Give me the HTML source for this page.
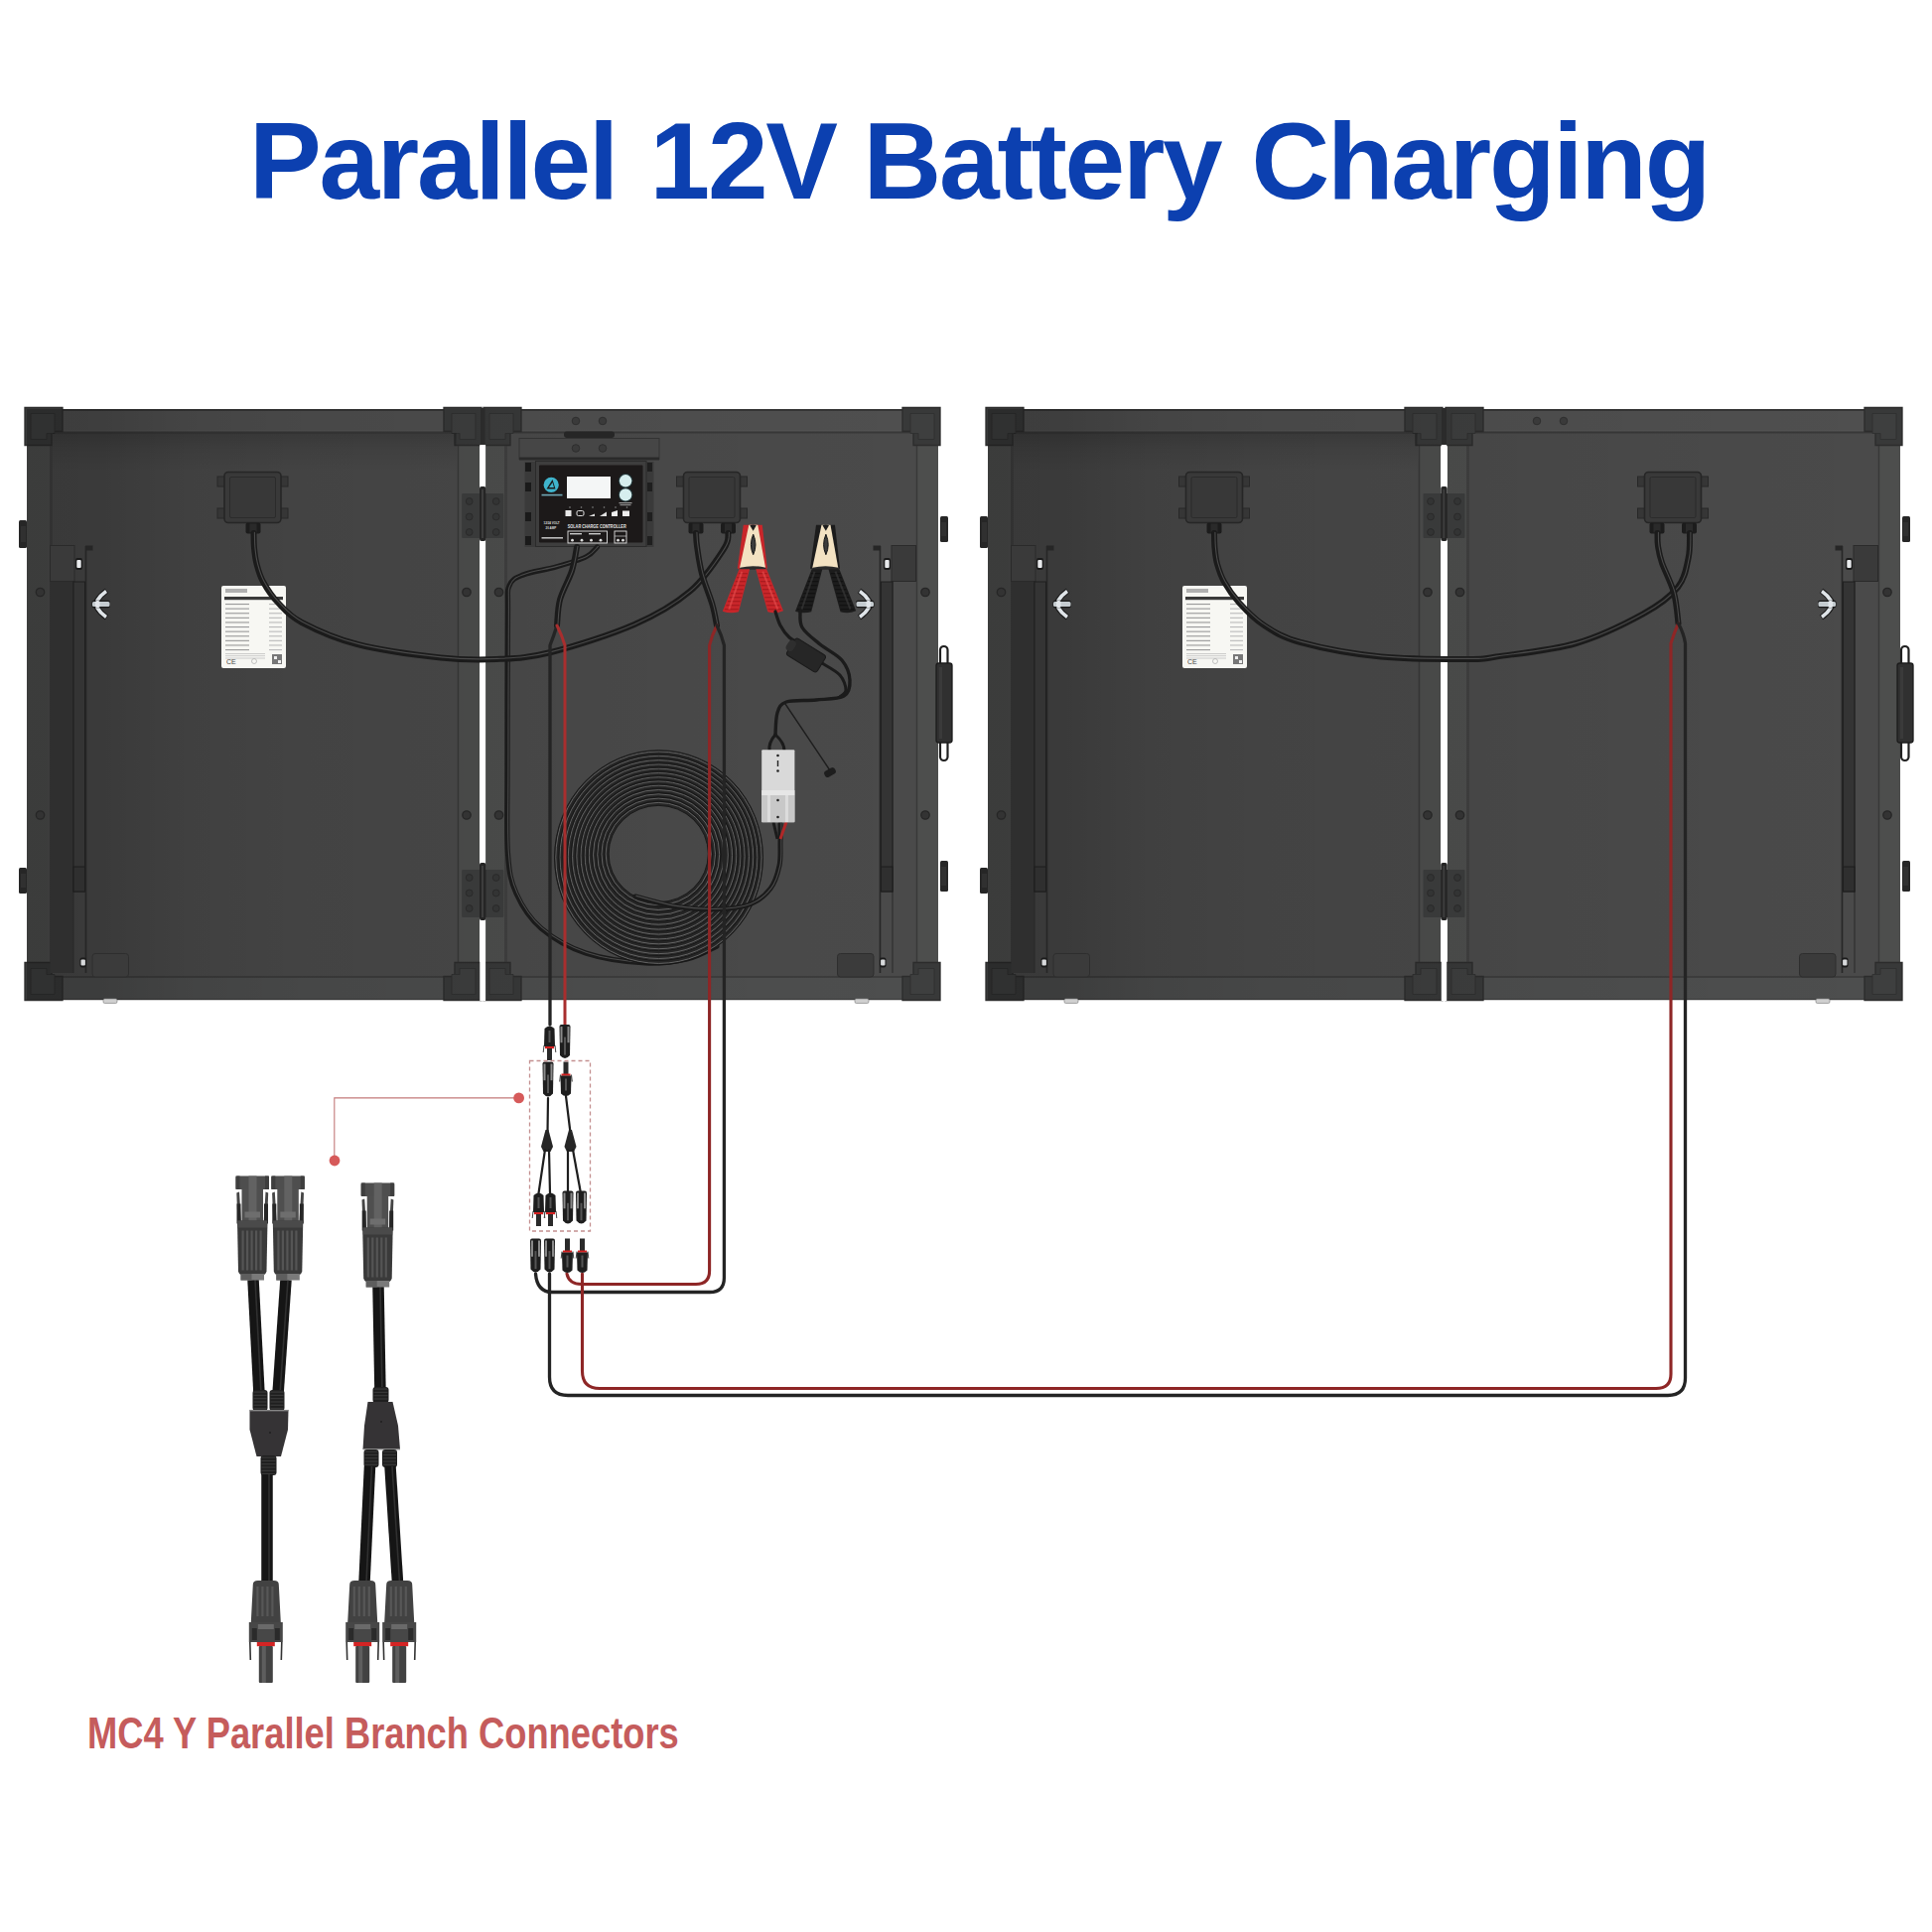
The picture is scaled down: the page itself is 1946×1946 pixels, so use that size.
<!DOCTYPE html><html><head><meta charset="utf-8"><style>html,body{margin:0;padding:0;background:#fff;width:1946px;height:1946px;overflow:hidden}svg{display:block}</style></head><body>
<svg width="1946" height="1946" viewBox="0 0 1946 1946">
<defs>
<linearGradient id="pg" x1="0" y1="0" x2="0" y2="1">
<stop offset="0" stop-color="#373737"/><stop offset="0.03" stop-color="#3a3a3a"/><stop offset="0.12" stop-color="#3d3d3d"/><stop offset="0.5" stop-color="#404040"/><stop offset="0.85" stop-color="#424242"/><stop offset="1" stop-color="#424242"/>
</linearGradient>
<linearGradient id="tsh" x1="0" y1="0" x2="0" y2="1">
<stop offset="0" stop-color="#000" stop-opacity="0.16"/><stop offset="0.4" stop-color="#000" stop-opacity="0.07"/><stop offset="1" stop-color="#000" stop-opacity="0"/>
</linearGradient>
<linearGradient id="sh" x1="0" y1="0" x2="1" y2="0">
<stop offset="0" stop-color="#000" stop-opacity="0.23"/><stop offset="0.08" stop-color="#000" stop-opacity="0.22"/><stop offset="0.18" stop-color="#000" stop-opacity="0.135"/><stop offset="0.3" stop-color="#000" stop-opacity="0.095"/><stop offset="0.46" stop-color="#000" stop-opacity="0.075"/><stop offset="0.56" stop-color="#000" stop-opacity="0.05"/><stop offset="0.78" stop-color="#000" stop-opacity="0.02"/><stop offset="1" stop-color="#000" stop-opacity="0"/>
</linearGradient>
</defs>
<rect x="0" y="0" width="1946" height="1946" fill="#ffffff" />
<text x="251" y="200" font-family="Liberation Sans" font-weight="bold" font-size="109" fill="#0c40b0" letter-spacing="-2.23">Parallel</text>
<text x="654.5" y="200" font-family="Liberation Sans" font-weight="bold" font-size="109" fill="#0c40b0" letter-spacing="-2.23">12V</text>
<text x="869.5" y="200" font-family="Liberation Sans" font-weight="bold" font-size="109" fill="#0c40b0" letter-spacing="-2.23">Battery</text>
<text x="1260.5" y="200" font-family="Liberation Sans" font-weight="bold" font-size="109" fill="#0c40b0" letter-spacing="-2.23">Charging</text>
<rect x="27" y="412" width="456" height="595" fill="#4d4e4d" />
<rect x="27" y="412" width="456" height="23" fill="#4f4f4f" />
<rect x="27" y="984" width="456" height="23" fill="#4d4e4e" />
<rect x="53" y="435" width="408" height="549" fill="#4a4a4a"/>
<rect x="50" y="435" width="3" height="549" fill="#404040"/>
<line x1="27" y1="412.9" x2="483" y2="412.9" stroke="#353535" stroke-width="2"/>
<line x1="27" y1="434" x2="483" y2="434" stroke="#585858" stroke-width="1"/>
<line x1="50" y1="435.5" x2="461" y2="435.5" stroke="#383838" stroke-width="2"/>
<line x1="50" y1="984" x2="461" y2="984" stroke="#383838" stroke-width="1.6"/>
<line x1="461.5" y1="435" x2="461.5" y2="984" stroke="#383838" stroke-width="1.4"/>
<line x1="27" y1="1006.7" x2="483" y2="1006.7" stroke="#3a3a3a" stroke-width="1.2"/>
<g transform="translate(25,410.5)">
<path d="M0 0H38V24H27V38H0Z" fill="#383939" stroke="#2c2c2c" stroke-width="1.3"/>
<path d="M6 6H30V26H22V32H6Z" fill="#3e3f3f" stroke="#2f3030" stroke-width="0.9"/>
</g>
<g transform="translate(447,410.5) translate(38,0) scale(-1,1)">
<path d="M0 0H38V24H27V38H0Z" fill="#383939" stroke="#2c2c2c" stroke-width="1.3"/>
<path d="M6 6H30V26H22V32H6Z" fill="#3e3f3f" stroke="#2f3030" stroke-width="0.9"/>
</g>
<g transform="translate(25,969.5) translate(0,38) scale(1,-1)">
<path d="M0 0H38V24H27V38H0Z" fill="#383939" stroke="#2c2c2c" stroke-width="1.3"/>
<path d="M6 6H30V26H22V32H6Z" fill="#3e3f3f" stroke="#2f3030" stroke-width="0.9"/>
</g>
<g transform="translate(447,969.5) translate(38,0) scale(-1,1) translate(0,38) scale(1,-1)">
<path d="M0 0H38V24H27V38H0Z" fill="#383939" stroke="#2c2c2c" stroke-width="1.3"/>
<path d="M6 6H30V26H22V32H6Z" fill="#3e3f3f" stroke="#2f3030" stroke-width="0.9"/>
</g>
<rect x="489" y="412" width="456" height="595" fill="#4d4e4d" />
<rect x="489" y="412" width="456" height="23" fill="#4f4f4f" />
<rect x="489" y="984" width="456" height="23" fill="#4d4e4e" />
<rect x="511" y="435" width="412" height="549" fill="#4a4a4a"/>
<rect x="508" y="435" width="3" height="549" fill="#404040"/>
<line x1="489" y1="412.9" x2="945" y2="412.9" stroke="#353535" stroke-width="2"/>
<line x1="489" y1="434" x2="945" y2="434" stroke="#585858" stroke-width="1"/>
<line x1="508" y1="435.5" x2="923" y2="435.5" stroke="#383838" stroke-width="2"/>
<line x1="508" y1="984" x2="923" y2="984" stroke="#383838" stroke-width="1.6"/>
<line x1="923.5" y1="435" x2="923.5" y2="984" stroke="#383838" stroke-width="1.4"/>
<line x1="489" y1="1006.7" x2="945" y2="1006.7" stroke="#3a3a3a" stroke-width="1.2"/>
<g transform="translate(487,410.5)">
<path d="M0 0H38V24H27V38H0Z" fill="#383939" stroke="#2c2c2c" stroke-width="1.3"/>
<path d="M6 6H30V26H22V32H6Z" fill="#3e3f3f" stroke="#2f3030" stroke-width="0.9"/>
</g>
<g transform="translate(909,410.5) translate(38,0) scale(-1,1)">
<path d="M0 0H38V24H27V38H0Z" fill="#383939" stroke="#2c2c2c" stroke-width="1.3"/>
<path d="M6 6H30V26H22V32H6Z" fill="#3e3f3f" stroke="#2f3030" stroke-width="0.9"/>
</g>
<g transform="translate(487,969.5) translate(0,38) scale(1,-1)">
<path d="M0 0H38V24H27V38H0Z" fill="#383939" stroke="#2c2c2c" stroke-width="1.3"/>
<path d="M6 6H30V26H22V32H6Z" fill="#3e3f3f" stroke="#2f3030" stroke-width="0.9"/>
</g>
<g transform="translate(909,969.5) translate(38,0) scale(-1,1) translate(0,38) scale(1,-1)">
<path d="M0 0H38V24H27V38H0Z" fill="#383939" stroke="#2c2c2c" stroke-width="1.3"/>
<path d="M6 6H30V26H22V32H6Z" fill="#3e3f3f" stroke="#2f3030" stroke-width="0.9"/>
</g>
<rect x="27" y="412" width="920" height="595" fill="url(#sh)"/>
<rect x="53" y="436" width="407" height="40" fill="url(#tsh)" />
<rect x="483.3" y="448" width="5.8" height="560" fill="#ffffff" />
<rect x="484" y="411" width="4.5" height="37" fill="#2b2b2b" />
<rect x="995" y="412" width="456" height="595" fill="#4d4e4d" />
<rect x="995" y="412" width="456" height="23" fill="#4f4f4f" />
<rect x="995" y="984" width="456" height="23" fill="#4d4e4e" />
<rect x="1021" y="435" width="408" height="549" fill="#4a4a4a"/>
<rect x="1018" y="435" width="3" height="549" fill="#404040"/>
<line x1="995" y1="412.9" x2="1451" y2="412.9" stroke="#353535" stroke-width="2"/>
<line x1="995" y1="434" x2="1451" y2="434" stroke="#585858" stroke-width="1"/>
<line x1="1018" y1="435.5" x2="1429" y2="435.5" stroke="#383838" stroke-width="2"/>
<line x1="1018" y1="984" x2="1429" y2="984" stroke="#383838" stroke-width="1.6"/>
<line x1="1429.5" y1="435" x2="1429.5" y2="984" stroke="#383838" stroke-width="1.4"/>
<line x1="995" y1="1006.7" x2="1451" y2="1006.7" stroke="#3a3a3a" stroke-width="1.2"/>
<g transform="translate(993,410.5)">
<path d="M0 0H38V24H27V38H0Z" fill="#383939" stroke="#2c2c2c" stroke-width="1.3"/>
<path d="M6 6H30V26H22V32H6Z" fill="#3e3f3f" stroke="#2f3030" stroke-width="0.9"/>
</g>
<g transform="translate(1415,410.5) translate(38,0) scale(-1,1)">
<path d="M0 0H38V24H27V38H0Z" fill="#383939" stroke="#2c2c2c" stroke-width="1.3"/>
<path d="M6 6H30V26H22V32H6Z" fill="#3e3f3f" stroke="#2f3030" stroke-width="0.9"/>
</g>
<g transform="translate(993,969.5) translate(0,38) scale(1,-1)">
<path d="M0 0H38V24H27V38H0Z" fill="#383939" stroke="#2c2c2c" stroke-width="1.3"/>
<path d="M6 6H30V26H22V32H6Z" fill="#3e3f3f" stroke="#2f3030" stroke-width="0.9"/>
</g>
<g transform="translate(1415,969.5) translate(38,0) scale(-1,1) translate(0,38) scale(1,-1)">
<path d="M0 0H38V24H27V38H0Z" fill="#383939" stroke="#2c2c2c" stroke-width="1.3"/>
<path d="M6 6H30V26H22V32H6Z" fill="#3e3f3f" stroke="#2f3030" stroke-width="0.9"/>
</g>
<rect x="1458" y="412" width="456" height="595" fill="#4d4e4d" />
<rect x="1458" y="412" width="456" height="23" fill="#4f4f4f" />
<rect x="1458" y="984" width="456" height="23" fill="#4d4e4e" />
<rect x="1480" y="435" width="412" height="549" fill="#4a4a4a"/>
<rect x="1477" y="435" width="3" height="549" fill="#404040"/>
<line x1="1458" y1="412.9" x2="1914" y2="412.9" stroke="#353535" stroke-width="2"/>
<line x1="1458" y1="434" x2="1914" y2="434" stroke="#585858" stroke-width="1"/>
<line x1="1477" y1="435.5" x2="1892" y2="435.5" stroke="#383838" stroke-width="2"/>
<line x1="1477" y1="984" x2="1892" y2="984" stroke="#383838" stroke-width="1.6"/>
<line x1="1892.5" y1="435" x2="1892.5" y2="984" stroke="#383838" stroke-width="1.4"/>
<line x1="1458" y1="1006.7" x2="1914" y2="1006.7" stroke="#3a3a3a" stroke-width="1.2"/>
<g transform="translate(1456,410.5)">
<path d="M0 0H38V24H27V38H0Z" fill="#383939" stroke="#2c2c2c" stroke-width="1.3"/>
<path d="M6 6H30V26H22V32H6Z" fill="#3e3f3f" stroke="#2f3030" stroke-width="0.9"/>
</g>
<g transform="translate(1878,410.5) translate(38,0) scale(-1,1)">
<path d="M0 0H38V24H27V38H0Z" fill="#383939" stroke="#2c2c2c" stroke-width="1.3"/>
<path d="M6 6H30V26H22V32H6Z" fill="#3e3f3f" stroke="#2f3030" stroke-width="0.9"/>
</g>
<g transform="translate(1456,969.5) translate(0,38) scale(1,-1)">
<path d="M0 0H38V24H27V38H0Z" fill="#383939" stroke="#2c2c2c" stroke-width="1.3"/>
<path d="M6 6H30V26H22V32H6Z" fill="#3e3f3f" stroke="#2f3030" stroke-width="0.9"/>
</g>
<g transform="translate(1878,969.5) translate(38,0) scale(-1,1) translate(0,38) scale(1,-1)">
<path d="M0 0H38V24H27V38H0Z" fill="#383939" stroke="#2c2c2c" stroke-width="1.3"/>
<path d="M6 6H30V26H22V32H6Z" fill="#3e3f3f" stroke="#2f3030" stroke-width="0.9"/>
</g>
<rect x="995" y="412" width="920" height="595" fill="url(#sh)"/>
<rect x="1021" y="436" width="407" height="40" fill="url(#tsh)" />
<rect x="1451.8" y="448" width="5.4" height="560" fill="#ffffff" />
<rect x="1452.5" y="411" width="4.5" height="37" fill="#2b2b2b" />
<circle cx="40.5" cy="596.5" r="4.2" fill="#333333" stroke="#262626" stroke-width="1.3"/>
<circle cx="40.5" cy="821" r="4.2" fill="#333333" stroke="#262626" stroke-width="1.3"/>
<circle cx="470" cy="596.5" r="4.2" fill="#333333" stroke="#262626" stroke-width="1.3"/>
<circle cx="470" cy="821" r="4.2" fill="#333333" stroke="#262626" stroke-width="1.3"/>
<circle cx="502.5" cy="596.5" r="4.2" fill="#333333" stroke="#262626" stroke-width="1.3"/>
<circle cx="502.5" cy="821" r="4.2" fill="#333333" stroke="#262626" stroke-width="1.3"/>
<circle cx="932" cy="596.5" r="4.2" fill="#333333" stroke="#262626" stroke-width="1.3"/>
<circle cx="932" cy="821" r="4.2" fill="#333333" stroke="#262626" stroke-width="1.3"/>
<circle cx="1008.5" cy="596.5" r="4.2" fill="#333333" stroke="#262626" stroke-width="1.3"/>
<circle cx="1008.5" cy="821" r="4.2" fill="#333333" stroke="#262626" stroke-width="1.3"/>
<circle cx="1438" cy="596.5" r="4.2" fill="#333333" stroke="#262626" stroke-width="1.3"/>
<circle cx="1438" cy="821" r="4.2" fill="#333333" stroke="#262626" stroke-width="1.3"/>
<circle cx="1470.5" cy="596.5" r="4.2" fill="#333333" stroke="#262626" stroke-width="1.3"/>
<circle cx="1470.5" cy="821" r="4.2" fill="#333333" stroke="#262626" stroke-width="1.3"/>
<circle cx="1901" cy="596.5" r="4.2" fill="#333333" stroke="#262626" stroke-width="1.3"/>
<circle cx="1901" cy="821" r="4.2" fill="#333333" stroke="#262626" stroke-width="1.3"/>
<rect x="465.2" y="497" width="42" height="45" rx="1" fill="#393a3a"/>
<circle cx="472.7" cy="505" r="3.4" fill="#333434" stroke="#2a2a2a" stroke-width="1"/>
<circle cx="499.7" cy="505" r="3.4" fill="#333434" stroke="#2a2a2a" stroke-width="1"/>
<circle cx="472.7" cy="520.5" r="3.4" fill="#333434" stroke="#2a2a2a" stroke-width="1"/>
<circle cx="499.7" cy="520.5" r="3.4" fill="#333434" stroke="#2a2a2a" stroke-width="1"/>
<circle cx="472.7" cy="536" r="3.4" fill="#333434" stroke="#2a2a2a" stroke-width="1"/>
<circle cx="499.7" cy="536" r="3.4" fill="#333434" stroke="#2a2a2a" stroke-width="1"/>
<rect x="483" y="490" width="6.4" height="55" rx="2" fill="#252525"/>
<rect x="485" y="493" width="2" height="49" fill="#3d3d3d"/>
<rect x="465.2" y="876" width="42" height="48" rx="1" fill="#393a3a"/>
<circle cx="472.7" cy="884" r="3.4" fill="#333434" stroke="#2a2a2a" stroke-width="1"/>
<circle cx="499.7" cy="884" r="3.4" fill="#333434" stroke="#2a2a2a" stroke-width="1"/>
<circle cx="472.7" cy="899.5" r="3.4" fill="#333434" stroke="#2a2a2a" stroke-width="1"/>
<circle cx="499.7" cy="899.5" r="3.4" fill="#333434" stroke="#2a2a2a" stroke-width="1"/>
<circle cx="472.7" cy="915" r="3.4" fill="#333434" stroke="#2a2a2a" stroke-width="1"/>
<circle cx="499.7" cy="915" r="3.4" fill="#333434" stroke="#2a2a2a" stroke-width="1"/>
<rect x="483" y="869" width="6.4" height="58" rx="2" fill="#252525"/>
<rect x="485" y="872" width="2" height="52" fill="#3d3d3d"/>
<rect x="1433.5" y="497" width="42" height="45" rx="1" fill="#393a3a"/>
<circle cx="1441" cy="505" r="3.4" fill="#333434" stroke="#2a2a2a" stroke-width="1"/>
<circle cx="1468" cy="505" r="3.4" fill="#333434" stroke="#2a2a2a" stroke-width="1"/>
<circle cx="1441" cy="520.5" r="3.4" fill="#333434" stroke="#2a2a2a" stroke-width="1"/>
<circle cx="1468" cy="520.5" r="3.4" fill="#333434" stroke="#2a2a2a" stroke-width="1"/>
<circle cx="1441" cy="536" r="3.4" fill="#333434" stroke="#2a2a2a" stroke-width="1"/>
<circle cx="1468" cy="536" r="3.4" fill="#333434" stroke="#2a2a2a" stroke-width="1"/>
<rect x="1451.3" y="490" width="6.4" height="55" rx="2" fill="#252525"/>
<rect x="1453.3" y="493" width="2" height="49" fill="#3d3d3d"/>
<rect x="1433.5" y="876" width="42" height="48" rx="1" fill="#393a3a"/>
<circle cx="1441" cy="884" r="3.4" fill="#333434" stroke="#2a2a2a" stroke-width="1"/>
<circle cx="1468" cy="884" r="3.4" fill="#333434" stroke="#2a2a2a" stroke-width="1"/>
<circle cx="1441" cy="899.5" r="3.4" fill="#333434" stroke="#2a2a2a" stroke-width="1"/>
<circle cx="1468" cy="899.5" r="3.4" fill="#333434" stroke="#2a2a2a" stroke-width="1"/>
<circle cx="1441" cy="915" r="3.4" fill="#333434" stroke="#2a2a2a" stroke-width="1"/>
<circle cx="1468" cy="915" r="3.4" fill="#333434" stroke="#2a2a2a" stroke-width="1"/>
<rect x="1451.3" y="869" width="6.4" height="58" rx="2" fill="#252525"/>
<rect x="1453.3" y="872" width="2" height="52" fill="#3d3d3d"/>
<rect x="19" y="524" width="8" height="28" rx="1.5" fill="#262626"/>
<rect x="21" y="530" width="5" height="16" fill="#303030"/>
<rect x="19" y="874" width="8" height="26" rx="1.5" fill="#262626"/>
<rect x="21" y="880" width="5" height="14" fill="#303030"/>
<rect x="1916" y="520" width="8" height="26" rx="1.5" fill="#262626"/>
<rect x="1917" y="526" width="5" height="14" fill="#303030"/>
<rect x="1916" y="867" width="8" height="31" rx="1.5" fill="#262626"/>
<rect x="1917" y="873" width="5" height="19" fill="#303030"/>
<rect x="947" y="520" width="8" height="26" rx="1.5" fill="#262626"/>
<rect x="948" y="526" width="5" height="14" fill="#303030"/>
<rect x="947" y="867" width="8" height="31" rx="1.5" fill="#262626"/>
<rect x="948" y="873" width="5" height="19" fill="#303030"/>
<rect x="987" y="520" width="8" height="32" rx="1.5" fill="#262626"/>
<rect x="989" y="526" width="5" height="20" fill="#303030"/>
<rect x="987" y="874" width="8" height="26" rx="1.5" fill="#262626"/>
<rect x="989" y="880" width="5" height="14" fill="#303030"/>
<rect x="947" y="651" width="7.5" height="24" rx="3.7" fill="none" stroke="#202020" stroke-width="2.2"/>
<rect x="947" y="741" width="7.5" height="25" rx="3.7" fill="none" stroke="#202020" stroke-width="2.2"/>
<rect x="943" y="668" width="16" height="80" rx="2.5" fill="#303030" stroke="#1c1c1c" stroke-width="1.3"/>
<rect x="946" y="672" width="3" height="72" fill="#3a3a3a"/>
<rect x="1915" y="651" width="7.5" height="24" rx="3.7" fill="none" stroke="#202020" stroke-width="2.2"/>
<rect x="1915" y="741" width="7.5" height="25" rx="3.7" fill="none" stroke="#202020" stroke-width="2.2"/>
<rect x="1911" y="668" width="16" height="80" rx="2.5" fill="#303030" stroke="#1c1c1c" stroke-width="1.3"/>
<rect x="1914" y="672" width="3" height="72" fill="#3a3a3a"/>
<rect x="50.5" y="585" width="23.5" height="395" fill="#2f2f2f" />
<line x1="74" y1="585" x2="74" y2="980" stroke="#282828" stroke-width="1"/>
<rect x="50.5" y="549.5" width="24.5" height="36" fill="#3a3a3a" stroke="#2a2a2a" stroke-width="1"/>
<rect x="74" y="586" width="11.5" height="312" fill="#343434" stroke="#1e1e1e" stroke-width="1"/>
<rect x="74" y="873" width="11.5" height="25" fill="#2f2f2f" stroke="#1c1c1c" stroke-width="1"/>
<line x1="86.5" y1="550" x2="86.5" y2="980" stroke="#262626" stroke-width="1.6"/>
<rect x="86" y="549.5" width="7.5" height="5" fill="#262626" />
<rect x="93" y="960.5" width="36.5" height="23.5" rx="3" fill="#3b3b3b" stroke="#2e2e2e" stroke-width="1"/>
<rect x="76" y="562" width="7" height="12" rx="2" fill="#1a1a1a"/>
<rect x="77.3" y="564" width="4.4" height="8" rx="1" fill="#e8eaec"/>
<rect x="80.5" y="964.5" width="6.5" height="10" rx="2" fill="#1a1a1a"/>
<rect x="81.5" y="966.5" width="4.4" height="6" rx="1" fill="#d8dadc"/>
<g transform="translate(1844,0) scale(-1,1)">
<line x1="945" y1="585" x2="945" y2="980" stroke="#282828" stroke-width="1"/>
<rect x="921.5" y="549.5" width="24.5" height="36" fill="#3a3a3a" stroke="#2a2a2a" stroke-width="1"/>
<rect x="945" y="586" width="11.5" height="312" fill="#343434" stroke="#1e1e1e" stroke-width="1"/>
<rect x="945" y="873" width="11.5" height="25" fill="#2f2f2f" stroke="#1c1c1c" stroke-width="1"/>
<line x1="957.5" y1="550" x2="957.5" y2="980" stroke="#262626" stroke-width="1.6"/>
<rect x="957" y="549.5" width="7.5" height="5" fill="#262626" />
<rect x="964" y="960.5" width="36.5" height="23.5" rx="3" fill="#3b3b3b" stroke="#2e2e2e" stroke-width="1"/>
<rect x="947" y="562" width="7" height="12" rx="2" fill="#1a1a1a"/>
<rect x="948.3" y="564" width="4.4" height="8" rx="1" fill="#e8eaec"/>
<rect x="951.5" y="964.5" width="6.5" height="10" rx="2" fill="#1a1a1a"/>
<rect x="952.5" y="966.5" width="4.4" height="6" rx="1" fill="#d8dadc"/>
</g>
<rect x="1018.5" y="585" width="23.5" height="395" fill="#2f2f2f" />
<line x1="1042" y1="585" x2="1042" y2="980" stroke="#282828" stroke-width="1"/>
<rect x="1018.5" y="549.5" width="24.5" height="36" fill="#3a3a3a" stroke="#2a2a2a" stroke-width="1"/>
<rect x="1042" y="586" width="11.5" height="312" fill="#343434" stroke="#1e1e1e" stroke-width="1"/>
<rect x="1042" y="873" width="11.5" height="25" fill="#2f2f2f" stroke="#1c1c1c" stroke-width="1"/>
<line x1="1054.5" y1="550" x2="1054.5" y2="980" stroke="#262626" stroke-width="1.6"/>
<rect x="1054" y="549.5" width="7.5" height="5" fill="#262626" />
<rect x="1061" y="960.5" width="36.5" height="23.5" rx="3" fill="#3b3b3b" stroke="#2e2e2e" stroke-width="1"/>
<rect x="1044" y="562" width="7" height="12" rx="2" fill="#1a1a1a"/>
<rect x="1045.3" y="564" width="4.4" height="8" rx="1" fill="#e8eaec"/>
<rect x="1048.5" y="964.5" width="6.5" height="10" rx="2" fill="#1a1a1a"/>
<rect x="1049.5" y="966.5" width="4.4" height="6" rx="1" fill="#d8dadc"/>
<g transform="translate(3782,0) scale(-1,1)">
<line x1="1914" y1="585" x2="1914" y2="980" stroke="#282828" stroke-width="1"/>
<rect x="1890.5" y="549.5" width="24.5" height="36" fill="#3a3a3a" stroke="#2a2a2a" stroke-width="1"/>
<rect x="1914" y="586" width="11.5" height="312" fill="#343434" stroke="#1e1e1e" stroke-width="1"/>
<rect x="1914" y="873" width="11.5" height="25" fill="#2f2f2f" stroke="#1c1c1c" stroke-width="1"/>
<line x1="1926.5" y1="550" x2="1926.5" y2="980" stroke="#262626" stroke-width="1.6"/>
<rect x="1926" y="549.5" width="7.5" height="5" fill="#262626" />
<rect x="1933" y="960.5" width="36.5" height="23.5" rx="3" fill="#3b3b3b" stroke="#2e2e2e" stroke-width="1"/>
<rect x="1916" y="562" width="7" height="12" rx="2" fill="#1a1a1a"/>
<rect x="1917.3" y="564" width="4.4" height="8" rx="1" fill="#e8eaec"/>
<rect x="1920.5" y="964.5" width="6.5" height="10" rx="2" fill="#1a1a1a"/>
<rect x="1921.5" y="966.5" width="4.4" height="6" rx="1" fill="#d8dadc"/>
</g>
<g transform="translate(98,608.5) scale(1,1)">
<path d="M-1 -2.5 Q3 -9 9.5 -13.5" fill="none" stroke="#1a1a1a" stroke-width="5.6" stroke-linecap="butt"/>
<path d="M-1 2.5 Q3 9 9.5 13.5" fill="none" stroke="#1a1a1a" stroke-width="5.6" stroke-linecap="butt"/>
<path d="M-0.5 -3 Q3 -9 9 -13" fill="none" stroke="#dfe4e8" stroke-width="3.6"/>
<path d="M-0.5 3 Q3 9 9 13" fill="none" stroke="#dfe4e8" stroke-width="3.6"/>
<rect x="-5.5" y="-3.8" width="18.5" height="7.6" rx="2" fill="#1a1a1a"/>
<rect x="-5" y="-2.4" width="17.5" height="4.8" rx="1.5" fill="#c5ccd0"/>
<rect x="-2" y="-3.4" width="4.5" height="6.8" rx="1.5" fill="#e2e6ea"/>
</g>
<g transform="translate(875,608.5) scale(-1,1)">
<path d="M-1 -2.5 Q3 -9 9.5 -13.5" fill="none" stroke="#1a1a1a" stroke-width="5.6" stroke-linecap="butt"/>
<path d="M-1 2.5 Q3 9 9.5 13.5" fill="none" stroke="#1a1a1a" stroke-width="5.6" stroke-linecap="butt"/>
<path d="M-0.5 -3 Q3 -9 9 -13" fill="none" stroke="#dfe4e8" stroke-width="3.6"/>
<path d="M-0.5 3 Q3 9 9 13" fill="none" stroke="#dfe4e8" stroke-width="3.6"/>
<rect x="-5.5" y="-3.8" width="18.5" height="7.6" rx="2" fill="#1a1a1a"/>
<rect x="-5" y="-2.4" width="17.5" height="4.8" rx="1.5" fill="#c5ccd0"/>
<rect x="-2" y="-3.4" width="4.5" height="6.8" rx="1.5" fill="#e2e6ea"/>
</g>
<g transform="translate(1066,608.5) scale(1,1)">
<path d="M-1 -2.5 Q3 -9 9.5 -13.5" fill="none" stroke="#1a1a1a" stroke-width="5.6" stroke-linecap="butt"/>
<path d="M-1 2.5 Q3 9 9.5 13.5" fill="none" stroke="#1a1a1a" stroke-width="5.6" stroke-linecap="butt"/>
<path d="M-0.5 -3 Q3 -9 9 -13" fill="none" stroke="#dfe4e8" stroke-width="3.6"/>
<path d="M-0.5 3 Q3 9 9 13" fill="none" stroke="#dfe4e8" stroke-width="3.6"/>
<rect x="-5.5" y="-3.8" width="18.5" height="7.6" rx="2" fill="#1a1a1a"/>
<rect x="-5" y="-2.4" width="17.5" height="4.8" rx="1.5" fill="#c5ccd0"/>
<rect x="-2" y="-3.4" width="4.5" height="6.8" rx="1.5" fill="#e2e6ea"/>
</g>
<g transform="translate(1844,608.5) scale(-1,1)">
<path d="M-1 -2.5 Q3 -9 9.5 -13.5" fill="none" stroke="#1a1a1a" stroke-width="5.6" stroke-linecap="butt"/>
<path d="M-1 2.5 Q3 9 9.5 13.5" fill="none" stroke="#1a1a1a" stroke-width="5.6" stroke-linecap="butt"/>
<path d="M-0.5 -3 Q3 -9 9 -13" fill="none" stroke="#dfe4e8" stroke-width="3.6"/>
<path d="M-0.5 3 Q3 9 9 13" fill="none" stroke="#dfe4e8" stroke-width="3.6"/>
<rect x="-5.5" y="-3.8" width="18.5" height="7.6" rx="2" fill="#1a1a1a"/>
<rect x="-5" y="-2.4" width="17.5" height="4.8" rx="1.5" fill="#c5ccd0"/>
<rect x="-2" y="-3.4" width="4.5" height="6.8" rx="1.5" fill="#e2e6ea"/>
</g>
<rect x="104" y="1006" width="14" height="4.5" rx="1.5" fill="#cfcfcf" stroke="#777" stroke-width="0.6"/>
<rect x="861" y="1006" width="14" height="4.5" rx="1.5" fill="#cfcfcf" stroke="#777" stroke-width="0.6"/>
<rect x="1072" y="1006" width="14" height="4.5" rx="1.5" fill="#cfcfcf" stroke="#777" stroke-width="0.6"/>
<rect x="1829" y="1006" width="14" height="4.5" rx="1.5" fill="#cfcfcf" stroke="#777" stroke-width="0.6"/>
<circle cx="580" cy="424" r="3.8" fill="#3a3a3a" stroke="#2c2c2c" stroke-width="0.9"/>
<circle cx="607" cy="424" r="3.8" fill="#3a3a3a" stroke="#2c2c2c" stroke-width="0.9"/>
<circle cx="1548" cy="424" r="3.8" fill="#3a3a3a" stroke="#2c2c2c" stroke-width="0.9"/>
<circle cx="1575" cy="424" r="3.8" fill="#3a3a3a" stroke="#2c2c2c" stroke-width="0.9"/>
<rect x="219" y="480" width="8" height="10" fill="#363636" stroke="#282828" stroke-width="1"/>
<rect x="219" y="512" width="8" height="10" fill="#363636" stroke="#282828" stroke-width="1"/>
<rect x="282" y="480" width="8" height="10" fill="#363636" stroke="#282828" stroke-width="1"/>
<rect x="282" y="512" width="8" height="10" fill="#363636" stroke="#282828" stroke-width="1"/>
<rect x="226" y="475.5" width="57" height="51" rx="4" fill="#393939" stroke="#262626" stroke-width="1.6"/>
<rect x="231.5" y="480.5" width="46" height="41" rx="1.5" fill="#383838" stroke="#2b2b2b" stroke-width="1"/>
<rect x="247.5" y="526.5" width="15" height="11" rx="2" fill="#1c1c1c"/>
<rect x="251.5" y="527.5" width="7" height="9" fill="#2a2a2a"/>
<rect x="681.5" y="480" width="8" height="10" fill="#363636" stroke="#282828" stroke-width="1"/>
<rect x="681.5" y="512" width="8" height="10" fill="#363636" stroke="#282828" stroke-width="1"/>
<rect x="744.5" y="480" width="8" height="10" fill="#363636" stroke="#282828" stroke-width="1"/>
<rect x="744.5" y="512" width="8" height="10" fill="#363636" stroke="#282828" stroke-width="1"/>
<rect x="688.5" y="475.5" width="57" height="51" rx="4" fill="#393939" stroke="#262626" stroke-width="1.6"/>
<rect x="694" y="480.5" width="46" height="41" rx="1.5" fill="#383838" stroke="#2b2b2b" stroke-width="1"/>
<rect x="693.5" y="526.5" width="15" height="11" rx="2" fill="#1c1c1c"/>
<rect x="697.5" y="527.5" width="7" height="9" fill="#2a2a2a"/>
<rect x="726" y="526.5" width="15" height="11" rx="2" fill="#1c1c1c"/>
<rect x="730" y="527.5" width="7" height="9" fill="#2a2a2a"/>
<rect x="1187.5" y="480" width="8" height="10" fill="#363636" stroke="#282828" stroke-width="1"/>
<rect x="1187.5" y="512" width="8" height="10" fill="#363636" stroke="#282828" stroke-width="1"/>
<rect x="1250.5" y="480" width="8" height="10" fill="#363636" stroke="#282828" stroke-width="1"/>
<rect x="1250.5" y="512" width="8" height="10" fill="#363636" stroke="#282828" stroke-width="1"/>
<rect x="1194.5" y="475.5" width="57" height="51" rx="4" fill="#393939" stroke="#262626" stroke-width="1.6"/>
<rect x="1200" y="480.5" width="46" height="41" rx="1.5" fill="#383838" stroke="#2b2b2b" stroke-width="1"/>
<rect x="1215.5" y="526.5" width="15" height="11" rx="2" fill="#1c1c1c"/>
<rect x="1219.5" y="527.5" width="7" height="9" fill="#2a2a2a"/>
<rect x="1649.5" y="480" width="8" height="10" fill="#363636" stroke="#282828" stroke-width="1"/>
<rect x="1649.5" y="512" width="8" height="10" fill="#363636" stroke="#282828" stroke-width="1"/>
<rect x="1712.5" y="480" width="8" height="10" fill="#363636" stroke="#282828" stroke-width="1"/>
<rect x="1712.5" y="512" width="8" height="10" fill="#363636" stroke="#282828" stroke-width="1"/>
<rect x="1656.5" y="475.5" width="57" height="51" rx="4" fill="#393939" stroke="#262626" stroke-width="1.6"/>
<rect x="1662" y="480.5" width="46" height="41" rx="1.5" fill="#383838" stroke="#2b2b2b" stroke-width="1"/>
<rect x="1661.5" y="526.5" width="15" height="11" rx="2" fill="#1c1c1c"/>
<rect x="1665.5" y="527.5" width="7" height="9" fill="#2a2a2a"/>
<rect x="1694" y="526.5" width="15" height="11" rx="2" fill="#1c1c1c"/>
<rect x="1698" y="527.5" width="7" height="9" fill="#2a2a2a"/>
<rect x="223" y="590" width="65" height="83" rx="2" fill="#f7f7f3"/>
<rect x="226" y="601" width="59" height="3.2" fill="#3a3a3a"/>
<rect x="227" y="593" width="22" height="4" fill="#b0b0b0"/>
<rect x="227" y="608" width="24" height="1.1" fill="#9a9a9a"/>
<rect x="271" y="608" width="13" height="1.1" fill="#bbbbbb"/>
<rect x="227" y="612.6" width="24" height="1.1" fill="#9a9a9a"/>
<rect x="271" y="612.6" width="13" height="1.1" fill="#bbbbbb"/>
<rect x="227" y="617.2" width="24" height="1.1" fill="#9a9a9a"/>
<rect x="271" y="617.2" width="13" height="1.1" fill="#bbbbbb"/>
<rect x="227" y="621.8" width="24" height="1.1" fill="#9a9a9a"/>
<rect x="271" y="621.8" width="13" height="1.1" fill="#bbbbbb"/>
<rect x="227" y="626.4" width="24" height="1.1" fill="#9a9a9a"/>
<rect x="271" y="626.4" width="13" height="1.1" fill="#bbbbbb"/>
<rect x="227" y="631" width="24" height="1.1" fill="#9a9a9a"/>
<rect x="271" y="631" width="13" height="1.1" fill="#bbbbbb"/>
<rect x="227" y="635.6" width="24" height="1.1" fill="#9a9a9a"/>
<rect x="271" y="635.6" width="13" height="1.1" fill="#bbbbbb"/>
<rect x="227" y="640.2" width="24" height="1.1" fill="#9a9a9a"/>
<rect x="271" y="640.2" width="13" height="1.1" fill="#bbbbbb"/>
<rect x="227" y="644.8" width="24" height="1.1" fill="#9a9a9a"/>
<rect x="271" y="644.8" width="13" height="1.1" fill="#bbbbbb"/>
<rect x="227" y="649.4" width="24" height="1.1" fill="#9a9a9a"/>
<rect x="271" y="649.4" width="13" height="1.1" fill="#bbbbbb"/>
<rect x="227" y="654" width="24" height="1.1" fill="#9a9a9a"/>
<rect x="271" y="654" width="13" height="1.1" fill="#bbbbbb"/>
<rect x="227" y="658" width="40" height="0.8" fill="#c0c0c0"/>
<rect x="227" y="660.3" width="40" height="0.8" fill="#c0c0c0"/>
<rect x="227" y="662.6" width="40" height="0.8" fill="#c0c0c0"/>
<text x="228" y="669" font-family="Liberation Sans" font-size="7" fill="#444">CE</text>
<circle cx="256" cy="666" r="2.5" fill="none" stroke="#aaa" stroke-width="0.7"/>
<rect x="274" y="659" width="10" height="10" fill="#777"/>
<rect x="276" y="661" width="3" height="3" fill="#eee"/><rect x="280" y="665" width="3" height="3" fill="#eee"/>
<rect x="1191" y="590" width="65" height="83" rx="2" fill="#f7f7f3"/>
<rect x="1194" y="601" width="59" height="3.2" fill="#3a3a3a"/>
<rect x="1195" y="593" width="22" height="4" fill="#b0b0b0"/>
<rect x="1195" y="608" width="24" height="1.1" fill="#9a9a9a"/>
<rect x="1239" y="608" width="13" height="1.1" fill="#bbbbbb"/>
<rect x="1195" y="612.6" width="24" height="1.1" fill="#9a9a9a"/>
<rect x="1239" y="612.6" width="13" height="1.1" fill="#bbbbbb"/>
<rect x="1195" y="617.2" width="24" height="1.1" fill="#9a9a9a"/>
<rect x="1239" y="617.2" width="13" height="1.1" fill="#bbbbbb"/>
<rect x="1195" y="621.8" width="24" height="1.1" fill="#9a9a9a"/>
<rect x="1239" y="621.8" width="13" height="1.1" fill="#bbbbbb"/>
<rect x="1195" y="626.4" width="24" height="1.1" fill="#9a9a9a"/>
<rect x="1239" y="626.4" width="13" height="1.1" fill="#bbbbbb"/>
<rect x="1195" y="631" width="24" height="1.1" fill="#9a9a9a"/>
<rect x="1239" y="631" width="13" height="1.1" fill="#bbbbbb"/>
<rect x="1195" y="635.6" width="24" height="1.1" fill="#9a9a9a"/>
<rect x="1239" y="635.6" width="13" height="1.1" fill="#bbbbbb"/>
<rect x="1195" y="640.2" width="24" height="1.1" fill="#9a9a9a"/>
<rect x="1239" y="640.2" width="13" height="1.1" fill="#bbbbbb"/>
<rect x="1195" y="644.8" width="24" height="1.1" fill="#9a9a9a"/>
<rect x="1239" y="644.8" width="13" height="1.1" fill="#bbbbbb"/>
<rect x="1195" y="649.4" width="24" height="1.1" fill="#9a9a9a"/>
<rect x="1239" y="649.4" width="13" height="1.1" fill="#bbbbbb"/>
<rect x="1195" y="654" width="24" height="1.1" fill="#9a9a9a"/>
<rect x="1239" y="654" width="13" height="1.1" fill="#bbbbbb"/>
<rect x="1195" y="658" width="40" height="0.8" fill="#c0c0c0"/>
<rect x="1195" y="660.3" width="40" height="0.8" fill="#c0c0c0"/>
<rect x="1195" y="662.6" width="40" height="0.8" fill="#c0c0c0"/>
<text x="1196" y="669" font-family="Liberation Sans" font-size="7" fill="#444">CE</text>
<circle cx="1224" cy="666" r="2.5" fill="none" stroke="#aaa" stroke-width="0.7"/>
<rect x="1242" y="659" width="10" height="10" fill="#777"/>
<rect x="1244" y="661" width="3" height="3" fill="#eee"/><rect x="1248" y="665" width="3" height="3" fill="#eee"/>
<rect x="568" y="434.5" width="51" height="6.5" rx="3" fill="#262626"/>
<rect x="523" y="441.5" width="141" height="21" fill="#464646" stroke="#333333" stroke-width="1"/>
<rect x="523" y="460.5" width="141" height="3" fill="#2a2a2a"/>
<circle cx="580" cy="451.5" r="3.8" fill="#3a3a3a" stroke="#2c2c2c" stroke-width="0.9"/>
<circle cx="607" cy="451.5" r="3.8" fill="#3a3a3a" stroke="#2c2c2c" stroke-width="0.9"/>
<rect x="528.5" y="465" width="11" height="86" fill="#3a3a3a"/>
<rect x="650.5" y="465" width="8" height="86" fill="#3a3a3a"/>
<rect x="529" y="466" width="6" height="9" fill="#1a1a1a"/>
<rect x="652" y="466" width="5" height="9" fill="#1f1f1f"/>
<rect x="529" y="486" width="6" height="9" fill="#1a1a1a"/>
<rect x="652" y="486" width="5" height="9" fill="#1f1f1f"/>
<rect x="529" y="516" width="6" height="9" fill="#1a1a1a"/>
<rect x="652" y="516" width="5" height="9" fill="#1f1f1f"/>
<rect x="529" y="540" width="6" height="9" fill="#1a1a1a"/>
<rect x="652" y="540" width="5" height="9" fill="#1f1f1f"/>
<rect x="539.5" y="464.5" width="111.5" height="86" fill="#3e3e3e" stroke="#2b2b2b" stroke-width="1"/>
<rect x="543" y="468.5" width="104.5" height="78" rx="1" fill="#1c1919"/>
<circle cx="555.2" cy="488.4" r="7.6" fill="#3fb4cc"/>
<path d="M550.5 492.5 L556.5 483 L559.5 492.5Z" fill="#1c1919"/>
<path d="M553 491 L556.5 486 L558 491Z" fill="#3fb4cc"/>
<rect x="545.5" y="497.8" width="21" height="1.6" fill="#6fa6b4"/>
<rect x="571" y="480" width="44" height="22" fill="#f4f6f6"/>
<circle cx="630.1" cy="484.3" r="7.2" fill="#22373a"/>
<circle cx="630.1" cy="484.3" r="6.2" fill="#d6eeee"/>
<circle cx="630.1" cy="498.4" r="7.2" fill="#22373a"/>
<circle cx="630.1" cy="498.4" r="6.2" fill="#d6eeee"/>
<rect x="623.5" y="506" width="13" height="1.2" fill="#999"/><rect x="624.5" y="508" width="11" height="1.2" fill="#888"/>
<circle cx="574.0" cy="511" r="0.8" fill="#888"/>
<circle cx="585.5" cy="511" r="0.8" fill="#888"/>
<circle cx="597.0" cy="511" r="0.8" fill="#888"/>
<circle cx="608.5" cy="511" r="0.8" fill="#888"/>
<circle cx="620.0" cy="511" r="0.8" fill="#888"/>
<circle cx="631.5" cy="511" r="0.8" fill="#888"/>
<rect x="569.5" y="514" width="6" height="6" fill="#e8e8e8"/>
<rect x="581" y="514.5" width="7" height="5" rx="1.5" fill="none" stroke="#ddd" stroke-width="1"/>
<path d="M593 520 L599 517.5 L599 520Z" fill="#ddd"/>
<path d="M604 520 L611 515.5 L611 520Z" fill="#e0e0e0"/>
<path d="M616 520 L616 516 L622 514 L622 520Z" fill="#eee"/>
<rect x="627" y="514.5" width="7" height="5.5" fill="#eee"/>
<text x="571.7" y="531.5" font-family="Liberation Sans" font-weight="bold" font-size="4.9" fill="#e8e8e8" textLength="59" lengthAdjust="spacingAndGlyphs">SOLAR CHARGE CONTROLLER</text>
<text x="547.5" y="528" font-family="Liberation Sans" font-weight="bold" font-size="3" fill="#ddd">12/24 VOLT</text>
<text x="549.5" y="532.5" font-family="Liberation Sans" font-weight="bold" font-size="3" fill="#ddd">20 AMP</text>
<rect x="545.5" y="541" width="21.5" height="1.6" fill="#bbb"/>
<rect x="572" y="535" width="39.5" height="12" fill="none" stroke="#e0e0e0" stroke-width="0.9"/>
<rect x="619" y="535" width="12" height="12" fill="none" stroke="#e0e0e0" stroke-width="0.9"/>
<line x1="619" y1="540" x2="631" y2="540" stroke="#ccc" stroke-width="0.7"/>
<circle cx="576.5" cy="544.2" r="1.4" fill="#ddd"/>
<circle cx="586" cy="544.2" r="1.4" fill="#ddd"/>
<circle cx="595.5" cy="544.2" r="1.4" fill="#ddd"/>
<circle cx="605" cy="544.2" r="1.4" fill="#ddd"/>
<circle cx="622.5" cy="544.2" r="1.4" fill="#ddd"/>
<circle cx="627.5" cy="544.2" r="1.4" fill="#ddd"/>
<rect x="574" y="537" width="12" height="1.4" fill="#ccc"/>
<rect x="593" y="537" width="12" height="1.4" fill="#ccc"/>
<path d="M601.5 551 C599.6 552.7 596.9 557.7 590 561 C583.1 564.3 570.5 568 560 571 C549.5 574 534.8 575.8 527 579 C519.2 582.2 515.6 583.2 513 590 C510.4 596.8 511.8 588.3 511.5 620 C511.2 651.7 511 740 511 780 C511 820 510 840 511.5 860 C513 880 514.4 887.5 520 900 C525.6 912.5 533.3 925 545 935 C556.7 945 572.5 954.2 590 960 C607.5 965.8 633 969 650 970 C667 971 680 968.8 692 966 C704 963.2 717 955.2 722 953" fill="none" stroke="#1b1b1b" stroke-width="5.2" stroke-linecap="round" stroke-linejoin="round"/>
<path d="M601.5 551 C599.6 552.7 596.9 557.7 590 561 C583.1 564.3 570.5 568 560 571 C549.5 574 534.8 575.8 527 579 C519.2 582.2 515.6 583.2 513 590 C510.4 596.8 511.8 588.3 511.5 620 C511.2 651.7 511 740 511 780 C511 820 510 840 511.5 860 C513 880 514.4 887.5 520 900 C525.6 912.5 533.3 925 545 935 C556.7 945 572.5 954.2 590 960 C607.5 965.8 633 969 650 970 C667 971 680 968.8 692 966 C704 963.2 717 955.2 722 953" fill="none" stroke="#4a4a4a" stroke-width="1.1" stroke-linecap="round" transform="translate(0.9,-0.6)"/>
<g>
<ellipse cx="663.2" cy="860" rx="52.2" ry="50.7" fill="none" stroke="#262626" stroke-width="4.5"/>
<ellipse cx="663.2" cy="860.3" rx="56.4" ry="55.3" fill="none" stroke="#262626" stroke-width="4.5"/>
<ellipse cx="663.2" cy="860.6" rx="60.6" ry="59.9" fill="none" stroke="#262626" stroke-width="4.5"/>
<ellipse cx="663.3" cy="860.9" rx="64.9" ry="64.5" fill="none" stroke="#262626" stroke-width="4.5"/>
<ellipse cx="663.3" cy="861.2" rx="69.1" ry="69.1" fill="none" stroke="#262626" stroke-width="4.5"/>
<ellipse cx="663.3" cy="861.5" rx="73.3" ry="73.7" fill="none" stroke="#262626" stroke-width="4.5"/>
<ellipse cx="663.4" cy="861.9" rx="77.5" ry="78.2" fill="none" stroke="#262626" stroke-width="4.5"/>
<ellipse cx="663.4" cy="862.2" rx="81.7" ry="82.8" fill="none" stroke="#262626" stroke-width="4.5"/>
<ellipse cx="663.4" cy="862.5" rx="85.9" ry="87.4" fill="none" stroke="#262626" stroke-width="4.5"/>
<ellipse cx="663.4" cy="862.8" rx="90.2" ry="92" fill="none" stroke="#262626" stroke-width="4.5"/>
<ellipse cx="663.5" cy="863.1" rx="94.4" ry="96.6" fill="none" stroke="#262626" stroke-width="4.5"/>
<ellipse cx="663.5" cy="863.4" rx="98.6" ry="101.2" fill="none" stroke="#262626" stroke-width="4.5"/>
<ellipse cx="663.5" cy="863.7" rx="102.8" ry="105.8" fill="none" stroke="#262626" stroke-width="4.5"/>
<ellipse cx="663.2" cy="860" rx="53.1" ry="51.6" fill="none" stroke="#6a6a6a" stroke-width="0.9"/>
<ellipse cx="663.2" cy="860" rx="50.1" ry="48.6" fill="none" stroke="#111111" stroke-width="0.8"/>
<ellipse cx="663.2" cy="860.3" rx="57.3" ry="56.2" fill="none" stroke="#6a6a6a" stroke-width="0.9"/>
<ellipse cx="663.2" cy="860.3" rx="54.3" ry="53.2" fill="none" stroke="#111111" stroke-width="0.8"/>
<ellipse cx="663.2" cy="860.6" rx="61.5" ry="60.8" fill="none" stroke="#6a6a6a" stroke-width="0.9"/>
<ellipse cx="663.2" cy="860.6" rx="58.5" ry="57.8" fill="none" stroke="#111111" stroke-width="0.8"/>
<ellipse cx="663.3" cy="860.9" rx="65.8" ry="65.4" fill="none" stroke="#6a6a6a" stroke-width="0.9"/>
<ellipse cx="663.3" cy="860.9" rx="62.8" ry="62.4" fill="none" stroke="#111111" stroke-width="0.8"/>
<ellipse cx="663.3" cy="861.2" rx="70" ry="70" fill="none" stroke="#6a6a6a" stroke-width="0.9"/>
<ellipse cx="663.3" cy="861.2" rx="67" ry="67" fill="none" stroke="#111111" stroke-width="0.8"/>
<ellipse cx="663.3" cy="861.5" rx="74.2" ry="74.6" fill="none" stroke="#6a6a6a" stroke-width="0.9"/>
<ellipse cx="663.3" cy="861.5" rx="71.2" ry="71.6" fill="none" stroke="#111111" stroke-width="0.8"/>
<ellipse cx="663.4" cy="861.9" rx="78.4" ry="79.2" fill="none" stroke="#6a6a6a" stroke-width="0.9"/>
<ellipse cx="663.4" cy="861.9" rx="75.4" ry="76.2" fill="none" stroke="#111111" stroke-width="0.8"/>
<ellipse cx="663.4" cy="862.2" rx="82.6" ry="83.7" fill="none" stroke="#6a6a6a" stroke-width="0.9"/>
<ellipse cx="663.4" cy="862.2" rx="79.6" ry="80.7" fill="none" stroke="#111111" stroke-width="0.8"/>
<ellipse cx="663.4" cy="862.5" rx="86.8" ry="88.3" fill="none" stroke="#6a6a6a" stroke-width="0.9"/>
<ellipse cx="663.4" cy="862.5" rx="83.8" ry="85.3" fill="none" stroke="#111111" stroke-width="0.8"/>
<ellipse cx="663.4" cy="862.8" rx="91.1" ry="92.9" fill="none" stroke="#6a6a6a" stroke-width="0.9"/>
<ellipse cx="663.4" cy="862.8" rx="88.1" ry="89.9" fill="none" stroke="#111111" stroke-width="0.8"/>
<ellipse cx="663.5" cy="863.1" rx="95.3" ry="97.5" fill="none" stroke="#6a6a6a" stroke-width="0.9"/>
<ellipse cx="663.5" cy="863.1" rx="92.3" ry="94.5" fill="none" stroke="#111111" stroke-width="0.8"/>
<ellipse cx="663.5" cy="863.4" rx="99.5" ry="102.1" fill="none" stroke="#6a6a6a" stroke-width="0.9"/>
<ellipse cx="663.5" cy="863.4" rx="96.5" ry="99.1" fill="none" stroke="#111111" stroke-width="0.8"/>
<ellipse cx="663.5" cy="863.7" rx="103.7" ry="106.7" fill="none" stroke="#6a6a6a" stroke-width="0.9"/>
<ellipse cx="663.5" cy="863.7" rx="100.7" ry="103.7" fill="none" stroke="#111111" stroke-width="0.8"/>
<ellipse cx="663.5" cy="863.7" rx="105" ry="108" fill="none" stroke="#151515" stroke-width="0.9"/>
</g>
<path d="M640 903 C646.7 904.7 666.7 910.8 680 913 C693.3 915.2 707.5 916.3 720 916 C732.5 915.7 745.7 914.5 755 911 C764.3 907.5 771 901.5 776 895 C781 888.5 783.3 879.8 785 872 C786.7 864.2 785.8 855 786 848 C786.2 841 786 833 786 830" fill="none" stroke="#1b1b1b" stroke-width="5" stroke-linecap="round" stroke-linejoin="round"/>
<path d="M640 903 C646.7 904.7 666.7 910.8 680 913 C693.3 915.2 707.5 916.3 720 916 C732.5 915.7 745.7 914.5 755 911 C764.3 907.5 771 901.5 776 895 C781 888.5 783.3 879.8 785 872 C786.7 864.2 785.8 855 786 848 C786.2 841 786 833 786 830" fill="none" stroke="#4a4a4a" stroke-width="1.1" stroke-linecap="round" transform="translate(0.9,-0.6)"/>
<path d="M779 828 L783 845" stroke="#1b1b1b" stroke-width="3" fill="none"/>
<path d="M792 828 L786 845" stroke="#b02828" stroke-width="3" fill="none"/>
<path d="M255.5 537 C255.6 539.5 255.5 546.8 256 552 C256.5 557.2 257 562.3 258.5 568 C260 573.7 261.4 579.5 265 586 C268.6 592.5 273.5 600.2 280 607 C286.5 613.8 290.7 620 304 627 C317.3 634 336.7 643.1 360 649 C383.3 654.9 420.7 660 444 662.5 C467.3 665 481.5 664.9 500 664 C518.5 663.1 531.8 662.8 555 657 C578.2 651.2 615.7 639.2 639 629 C662.3 618.8 680 608.2 695 595.5 C710 582.8 722.6 562.8 729 553 C735.4 543.2 732.8 539.7 733.5 537" fill="none" stroke="#1b1b1b" stroke-width="6" stroke-linecap="round" stroke-linejoin="round"/>
<path d="M255.5 537 C255.6 539.5 255.5 546.8 256 552 C256.5 557.2 257 562.3 258.5 568 C260 573.7 261.4 579.5 265 586 C268.6 592.5 273.5 600.2 280 607 C286.5 613.8 290.7 620 304 627 C317.3 634 336.7 643.1 360 649 C383.3 654.9 420.7 660 444 662.5 C467.3 665 481.5 664.9 500 664 C518.5 663.1 531.8 662.8 555 657 C578.2 651.2 615.7 639.2 639 629 C662.3 618.8 680 608.2 695 595.5 C710 582.8 722.6 562.8 729 553 C735.4 543.2 732.8 539.7 733.5 537" fill="none" stroke="#4a4a4a" stroke-width="1.1" stroke-linecap="round" transform="translate(0.9,-0.6)"/>
<path d="M701 537 C701.2 539.2 701 543.2 702 550 C703 556.8 704.4 568.2 707 578 C709.6 587.8 715 600.3 717.5 609 C720 617.7 721.2 626.5 722 630" fill="none" stroke="#1b1b1b" stroke-width="6" stroke-linecap="round" stroke-linejoin="round"/>
<path d="M701 537 C701.2 539.2 701 543.2 702 550 C703 556.8 704.4 568.2 707 578 C709.6 587.8 715 600.3 717.5 609 C720 617.7 721.2 626.5 722 630" fill="none" stroke="#4a4a4a" stroke-width="1.1" stroke-linecap="round" transform="translate(0.9,-0.6)"/>
<path d="M581 551 C580.2 555 578.8 566.2 576 575 C573.2 583.8 566.5 594.8 564 604 C561.5 613.2 561.5 625.7 561 630" fill="none" stroke="#1b1b1b" stroke-width="6" stroke-linecap="round" stroke-linejoin="round"/>
<path d="M581 551 C580.2 555 578.8 566.2 576 575 C573.2 583.8 566.5 594.8 564 604 C561.5 613.2 561.5 625.7 561 630" fill="none" stroke="#4a4a4a" stroke-width="1.1" stroke-linecap="round" transform="translate(0.9,-0.6)"/>
<path d="M1223 537 C1223.1 539.5 1223 546.8 1223.5 552 C1224 557.2 1224.4 562.3 1226 568 C1227.6 573.7 1229.3 579.5 1233 586 C1236.7 592.5 1241.5 599.8 1248 607 C1254.5 614.2 1261.7 622.3 1272 629 C1282.3 635.7 1290.2 641.6 1310 647 C1329.8 652.4 1362.7 658.7 1391 661.5 C1419.3 664.3 1460.7 664 1480 664 C1499.3 664 1489.1 664.2 1507 661.5 C1524.9 658.8 1562.8 655.2 1587.5 648 C1612.2 640.8 1637.9 627.8 1655 618.4 C1672.1 609 1682.4 600.9 1690 591.5 C1697.6 582.1 1698.6 571.1 1700.6 562 C1702.6 552.9 1701.8 541.2 1702 537" fill="none" stroke="#1b1b1b" stroke-width="6" stroke-linecap="round" stroke-linejoin="round"/>
<path d="M1223 537 C1223.1 539.5 1223 546.8 1223.5 552 C1224 557.2 1224.4 562.3 1226 568 C1227.6 573.7 1229.3 579.5 1233 586 C1236.7 592.5 1241.5 599.8 1248 607 C1254.5 614.2 1261.7 622.3 1272 629 C1282.3 635.7 1290.2 641.6 1310 647 C1329.8 652.4 1362.7 658.7 1391 661.5 C1419.3 664.3 1460.7 664 1480 664 C1499.3 664 1489.1 664.2 1507 661.5 C1524.9 658.8 1562.8 655.2 1587.5 648 C1612.2 640.8 1637.9 627.8 1655 618.4 C1672.1 609 1682.4 600.9 1690 591.5 C1697.6 582.1 1698.6 571.1 1700.6 562 C1702.6 552.9 1701.8 541.2 1702 537" fill="none" stroke="#4a4a4a" stroke-width="1.1" stroke-linecap="round" transform="translate(0.9,-0.6)"/>
<path d="M1669.5 537 C1669.6 539.2 1669.2 545 1670 550 C1670.8 555 1671.3 559.2 1674 567 C1676.7 574.8 1683.2 586.8 1686 597 C1688.8 607.2 1689.8 622.8 1690.5 628" fill="none" stroke="#1b1b1b" stroke-width="6" stroke-linecap="round" stroke-linejoin="round"/>
<path d="M1669.5 537 C1669.6 539.2 1669.2 545 1670 550 C1670.8 555 1671.3 559.2 1674 567 C1676.7 574.8 1683.2 586.8 1686 597 C1688.8 607.2 1689.8 622.8 1690.5 628" fill="none" stroke="#4a4a4a" stroke-width="1.1" stroke-linecap="round" transform="translate(0.9,-0.6)"/>
<path d="M561 630 Q558 640 554 650 L554 1032" fill="none" stroke="#242424" stroke-width="3.3" stroke-linejoin="round" stroke-linecap="round"/>
<path d="M561 630 Q566 640 569 650 L569 1032" fill="none" stroke="#a82e2e" stroke-width="3" stroke-linejoin="round" stroke-linecap="round"/>
<path d="M722 630 Q717 640 714.6 650 L714.6 1280 Q714.6 1293.5 701 1293.5 L586 1293.5 Q573 1293.5 571 1283" fill="none" stroke="#8e2626" stroke-width="3.1" stroke-linejoin="round" stroke-linecap="round"/>
<path d="M722 630 Q727 640 729.4 650 L729.4 1287 Q729.4 1301.5 715 1301.5 L556 1301.5 Q541 1301.5 539.5 1283" fill="none" stroke="#242424" stroke-width="3.3" stroke-linejoin="round" stroke-linecap="round"/>
<path d="M1690.5 628 Q1686 638 1683 648 L1683 1384 Q1683 1398.5 1668 1398.5 L604 1398.5 Q586.5 1398.5 586.5 1381 L586.5 1283" fill="none" stroke="#8e2626" stroke-width="3.1" stroke-linejoin="round" stroke-linecap="round"/>
<path d="M1690.5 628 Q1696 638 1697.5 648 L1697.5 1388 Q1697.5 1405.5 1680 1405.5 L572 1405.5 Q553.5 1405.5 553.5 1387 L553.5 1283" fill="none" stroke="#242424" stroke-width="3.3" stroke-linejoin="round" stroke-linecap="round"/>
<g transform="translate(749.3,528.7)">
<path d="M-0.5 0 L18.5 0 L23.5 44 L-6.5 44Z" fill="#c8262a"/>
<path d="M5 0 L14 0 L21.8 43.5 L-4.3 43.5Z" fill="#f3e2c2"/>
<path d="M6 0.5 Q9 -1 12.5 0.5 L9.3 6Z" fill="#1e1e1e"/>
<path d="M9.4 9.5 Q14 20 9.4 30 Q4.8 20 9.4 9.5Z" fill="#3c3c3c" stroke="#151515" stroke-width="1"/>
<path d="M-4 43 Q9 40 22 43 L22 45 L-4 45Z" fill="#2a2a2a"/>
<path d="M-4.8 44.6 L5.8 44.6 L-5.3 87.5 Q-13 90 -21.5 87 Z" fill="#c8262a"/>
<path d="M12 44.6 L22.9 44.6 L39.7 86.5 Q32 90 24 87.5 Z" fill="#c8262a"/>
<line x1="-5.5" y1="49" x2="3.7" y2="49" stroke="#a51a1e" stroke-width="1.1"/>
<line x1="14.2" y1="49" x2="23.6" y2="49" stroke="#a51a1e" stroke-width="1.1"/>
<line x1="-7.1" y1="53" x2="2.6" y2="53" stroke="#a51a1e" stroke-width="1.1"/>
<line x1="15.3" y1="53" x2="25.2" y2="53" stroke="#a51a1e" stroke-width="1.1"/>
<line x1="-8.6" y1="57" x2="1.6" y2="57" stroke="#a51a1e" stroke-width="1.1"/>
<line x1="16.5" y1="57" x2="26.7" y2="57" stroke="#a51a1e" stroke-width="1.1"/>
<line x1="-10.2" y1="61" x2="0.6" y2="61" stroke="#a51a1e" stroke-width="1.1"/>
<line x1="17.6" y1="61" x2="28.3" y2="61" stroke="#a51a1e" stroke-width="1.1"/>
<line x1="-11.7" y1="65" x2="-0.5" y2="65" stroke="#a51a1e" stroke-width="1.1"/>
<line x1="18.7" y1="65" x2="29.9" y2="65" stroke="#a51a1e" stroke-width="1.1"/>
<line x1="-13.3" y1="69" x2="-1.5" y2="69" stroke="#a51a1e" stroke-width="1.1"/>
<line x1="19.8" y1="69" x2="31.4" y2="69" stroke="#a51a1e" stroke-width="1.1"/>
<line x1="-14.8" y1="73" x2="-2.5" y2="73" stroke="#a51a1e" stroke-width="1.1"/>
<line x1="20.9" y1="73" x2="33" y2="73" stroke="#a51a1e" stroke-width="1.1"/>
<line x1="-16.4" y1="77" x2="-3.6" y2="77" stroke="#a51a1e" stroke-width="1.1"/>
<line x1="22" y1="77" x2="34.6" y2="77" stroke="#a51a1e" stroke-width="1.1"/>
<line x1="-17.9" y1="81" x2="-4.6" y2="81" stroke="#a51a1e" stroke-width="1.1"/>
<line x1="23.2" y1="81" x2="36.1" y2="81" stroke="#a51a1e" stroke-width="1.1"/>
<line x1="-19.5" y1="85" x2="-5.6" y2="85" stroke="#a51a1e" stroke-width="1.1"/>
<line x1="24.3" y1="85" x2="37.7" y2="85" stroke="#a51a1e" stroke-width="1.1"/>
<path d="M-2 47 L-15 85" stroke="#e85050" stroke-width="2" opacity="0.6"/>
<path d="M19 47 L34 85" stroke="#e85050" stroke-width="2" opacity="0.6"/>
</g>
<g transform="translate(822.5,528.7)">
<path d="M-0.5 0 L18.5 0 L23.5 44 L-6.5 44Z" fill="#1c1c1c"/>
<path d="M5 0 L14 0 L21.8 43.5 L-4.3 43.5Z" fill="#f3e2c2"/>
<path d="M6 0.5 Q9 -1 12.5 0.5 L9.3 6Z" fill="#1e1e1e"/>
<path d="M9.4 9.5 Q14 20 9.4 30 Q4.8 20 9.4 9.5Z" fill="#3c3c3c" stroke="#151515" stroke-width="1"/>
<path d="M-4 43 Q9 40 22 43 L22 45 L-4 45Z" fill="#2a2a2a"/>
<path d="M-4.8 44.6 L5.8 44.6 L-5.3 87.5 Q-13 90 -21.5 87 Z" fill="#1c1c1c"/>
<path d="M12 44.6 L22.9 44.6 L39.7 86.5 Q32 90 24 87.5 Z" fill="#1c1c1c"/>
<line x1="-5.5" y1="49" x2="3.7" y2="49" stroke="#111111" stroke-width="1.1"/>
<line x1="14.2" y1="49" x2="23.6" y2="49" stroke="#111111" stroke-width="1.1"/>
<line x1="-7.1" y1="53" x2="2.6" y2="53" stroke="#111111" stroke-width="1.1"/>
<line x1="15.3" y1="53" x2="25.2" y2="53" stroke="#111111" stroke-width="1.1"/>
<line x1="-8.6" y1="57" x2="1.6" y2="57" stroke="#111111" stroke-width="1.1"/>
<line x1="16.5" y1="57" x2="26.7" y2="57" stroke="#111111" stroke-width="1.1"/>
<line x1="-10.2" y1="61" x2="0.6" y2="61" stroke="#111111" stroke-width="1.1"/>
<line x1="17.6" y1="61" x2="28.3" y2="61" stroke="#111111" stroke-width="1.1"/>
<line x1="-11.7" y1="65" x2="-0.5" y2="65" stroke="#111111" stroke-width="1.1"/>
<line x1="18.7" y1="65" x2="29.9" y2="65" stroke="#111111" stroke-width="1.1"/>
<line x1="-13.3" y1="69" x2="-1.5" y2="69" stroke="#111111" stroke-width="1.1"/>
<line x1="19.8" y1="69" x2="31.4" y2="69" stroke="#111111" stroke-width="1.1"/>
<line x1="-14.8" y1="73" x2="-2.5" y2="73" stroke="#111111" stroke-width="1.1"/>
<line x1="20.9" y1="73" x2="33" y2="73" stroke="#111111" stroke-width="1.1"/>
<line x1="-16.4" y1="77" x2="-3.6" y2="77" stroke="#111111" stroke-width="1.1"/>
<line x1="22" y1="77" x2="34.6" y2="77" stroke="#111111" stroke-width="1.1"/>
<line x1="-17.9" y1="81" x2="-4.6" y2="81" stroke="#111111" stroke-width="1.1"/>
<line x1="23.2" y1="81" x2="36.1" y2="81" stroke="#111111" stroke-width="1.1"/>
<line x1="-19.5" y1="85" x2="-5.6" y2="85" stroke="#111111" stroke-width="1.1"/>
<line x1="24.3" y1="85" x2="37.7" y2="85" stroke="#111111" stroke-width="1.1"/>
<path d="M-2 47 L-15 85" stroke="#3c3c3c" stroke-width="2" opacity="0.6"/>
<path d="M19 47 L34 85" stroke="#3c3c3c" stroke-width="2" opacity="0.6"/>
</g>
<path d="M781 616 C781.8 618.3 783.7 625.7 786 630 C788.3 634.3 791.8 639 795 642 C798.2 645 803.3 647 805 648" fill="none" stroke="#1b1b1b" stroke-width="3.2" stroke-linecap="round" stroke-linejoin="round"/>
<path d="M806 615 C806.3 617.8 804.7 626.3 808 632 C811.3 637.7 819.3 643.5 826 649 C832.7 654.5 843 659 848 665 C853 671 855.7 679 856 685 C856.3 691 855.7 697.7 850 701 C844.3 704.3 831.7 704 822 705 C812.3 706 798.5 704.8 792 707 C785.5 709.2 784.8 712.5 783 718 C781.2 723.5 781.3 736.3 781 740" fill="none" stroke="#1b1b1b" stroke-width="3.4" stroke-linecap="round" stroke-linejoin="round"/>
<path d="M828 668 C831 670 842 675.5 846 680 C850 684.5 852 691.3 852 695 C852 698.7 847 700.8 846 702" fill="none" stroke="#1b1b1b" stroke-width="3" stroke-linecap="round" stroke-linejoin="round"/>
<g transform="translate(812,660) rotate(32)"><rect x="-18" y="-10" width="36" height="20" rx="3" fill="#262626" stroke="#1a1a1a" stroke-width="1"/><rect x="-22" y="-6" width="8" height="12" rx="4" fill="#2e2e2e"/></g>
<path d="M781 740 Q774 748 775 756" fill="none" stroke="#1b1b1b" stroke-width="3" stroke-linejoin="round" stroke-linecap="round"/>
<path d="M781 740 Q790 748 790 756" fill="none" stroke="#1b1b1b" stroke-width="3" stroke-linejoin="round" stroke-linecap="round"/>
<path d="M791 709 L836 776" fill="none" stroke="#1e1e1e" stroke-width="1.4" stroke-linejoin="round" stroke-linecap="round"/>
<g transform="translate(836,778) rotate(-30)"><rect x="-6" y="-3.5" width="12" height="7" rx="3" fill="#1e1e1e"/></g>
<rect x="767.2" y="755.2" width="33.2" height="73" rx="1" fill="#d9d9d9"/>
<rect x="767.2" y="796" width="33.2" height="5" fill="#e6e6e6"/>
<rect x="767.2" y="801" width="33.2" height="27.2" fill="#c8c8c8"/>
<rect x="773" y="801" width="3" height="27" fill="#dcdcdc"/><rect x="791" y="801" width="3" height="27" fill="#dcdcdc"/>
<circle cx="783.5" cy="761" r="1.3" fill="#222"/>
<circle cx="783.5" cy="776.5" r="1.3" fill="#222"/>
<circle cx="783.5" cy="806" r="1.3" fill="#222"/>
<circle cx="783.5" cy="823" r="1.3" fill="#222"/>
<rect x="782.8" y="766" width="1.4" height="6" fill="#222"/>
<path d="M548.5 1036 Q553.5 1031 558.5 1036 L559 1054 L548 1054 Z" fill="#1e1e1e"/>
<rect x="552.5" y="1038" width="2" height="12" fill="#555"/>
<rect x="549" y="1054" width="9" height="2.2" fill="#d42020"/>
<rect x="551" y="1056" width="5" height="12" fill="#2a2a2a"/>
<path d="M548 1053 L547.2 1060" stroke="#444" stroke-width="1"/>
<path d="M559 1053 L559.8 1060" stroke="#444" stroke-width="1"/>
<path d="M563.5 1034 Q563.5 1032 565.5 1032 L572.5 1032 Q574.5 1032 574.5 1034 L574 1063 Q569 1069 564 1063 Z" fill="#1e1e1e"/>
<rect x="564.5" y="1034" width="2" height="16.2" fill="#8a8a8a"/>
<rect x="571.5" y="1034" width="2" height="16.2" fill="#8a8a8a"/>
<rect x="568" y="1044.6" width="2" height="18" fill="#555"/>
<path d="M546.5 1071.5 Q546.5 1069.5 548.5 1069.5 L555.5 1069.5 Q557.5 1069.5 557.5 1071.5 L557 1101.5 Q552 1107.5 547 1101.5 Z" fill="#1e1e1e"/>
<rect x="547.5" y="1071.5" width="2" height="16.7" fill="#8a8a8a"/>
<rect x="554.5" y="1071.5" width="2" height="16.7" fill="#8a8a8a"/>
<rect x="551" y="1082.5" width="2" height="18.5" fill="#555"/>
<rect x="567.5" y="1069.5" width="5" height="13" fill="#2a2a2a"/>
<rect x="565.5" y="1081.5" width="9" height="2.2" fill="#d42020"/>
<path d="M564.5 1082.5 L563.7 1089.5" stroke="#444" stroke-width="1"/>
<path d="M575.5 1082.5 L576.3 1089.5" stroke="#444" stroke-width="1"/>
<path d="M564.5 1083.5 L575.5 1083.5 L575 1101.5 Q570 1106.5 565 1101.5 Z" fill="#1e1e1e"/>
<rect x="569" y="1086.5" width="2" height="12" fill="#555"/>
<path d="M552 1106 L551.5 1141" fill="none" stroke="#1e1e1e" stroke-width="2.2" stroke-linejoin="round" stroke-linecap="round"/>
<path d="M570 1104 L574.5 1141" fill="none" stroke="#1e1e1e" stroke-width="2.2" stroke-linejoin="round" stroke-linecap="round"/>
<path d="M549.5 1138 L552.5 1138 L557 1155 L554.5 1160 L547.5 1160 L545 1155Z" fill="#262626"/>
<path d="M573 1138 L576 1138 L580.5 1155 L578 1160 L571 1160 L568.5 1155Z" fill="#262626"/>
<path d="M549 1158 L542.5 1202" fill="none" stroke="#1e1e1e" stroke-width="2.2" stroke-linejoin="round" stroke-linecap="round"/>
<path d="M553 1158 L554 1202" fill="none" stroke="#1e1e1e" stroke-width="2.2" stroke-linejoin="round" stroke-linecap="round"/>
<path d="M572 1158 L572 1202" fill="none" stroke="#1e1e1e" stroke-width="2.2" stroke-linejoin="round" stroke-linecap="round"/>
<path d="M577 1158 L585 1202" fill="none" stroke="#1e1e1e" stroke-width="2.2" stroke-linejoin="round" stroke-linecap="round"/>
<path d="M537.5 1204 Q542.5 1199 547.5 1204 L548 1221 L537 1221 Z" fill="#1e1e1e"/>
<rect x="541.5" y="1206" width="2" height="11" fill="#555"/>
<rect x="538" y="1221" width="9" height="2.2" fill="#d42020"/>
<rect x="540" y="1223" width="5" height="12" fill="#2a2a2a"/>
<path d="M537 1220 L536.2 1227" stroke="#444" stroke-width="1"/>
<path d="M548 1220 L548.8 1227" stroke="#444" stroke-width="1"/>
<path d="M549.5 1204 Q554.5 1199 559.5 1204 L560 1221 L549 1221 Z" fill="#1e1e1e"/>
<rect x="553.5" y="1206" width="2" height="11" fill="#555"/>
<rect x="550" y="1221" width="9" height="2.2" fill="#d42020"/>
<rect x="552" y="1223" width="5" height="12" fill="#2a2a2a"/>
<path d="M549 1220 L548.2 1227" stroke="#444" stroke-width="1"/>
<path d="M560 1220 L560.8 1227" stroke="#444" stroke-width="1"/>
<path d="M566.5 1201.5 Q566.5 1199.5 568.5 1199.5 L575.5 1199.5 Q577.5 1199.5 577.5 1201.5 L577 1229.5 Q572 1235.5 567 1229.5 Z" fill="#1e1e1e"/>
<rect x="567.5" y="1201.5" width="2" height="15.8" fill="#8a8a8a"/>
<rect x="574.5" y="1201.5" width="2" height="15.8" fill="#8a8a8a"/>
<rect x="571" y="1211.8" width="2" height="17.5" fill="#555"/>
<path d="M580 1201.5 Q580 1199.5 582 1199.5 L589 1199.5 Q591 1199.5 591 1201.5 L590.5 1229.5 Q585.5 1235.5 580.5 1229.5 Z" fill="#1e1e1e"/>
<rect x="581" y="1201.5" width="2" height="15.8" fill="#8a8a8a"/>
<rect x="588" y="1201.5" width="2" height="15.8" fill="#8a8a8a"/>
<rect x="584.5" y="1211.8" width="2" height="17.5" fill="#555"/>
<path d="M534 1249.5 Q534 1247.5 536 1247.5 L543 1247.5 Q545 1247.5 545 1249.5 L544.5 1278.5 Q539.5 1284.5 534.5 1278.5 Z" fill="#1e1e1e"/>
<rect x="535" y="1249.5" width="2" height="16.2" fill="#8a8a8a"/>
<rect x="542" y="1249.5" width="2" height="16.2" fill="#8a8a8a"/>
<rect x="538.5" y="1260.1" width="2" height="18" fill="#555"/>
<path d="M548 1249.5 Q548 1247.5 550 1247.5 L557 1247.5 Q559 1247.5 559 1249.5 L558.5 1278.5 Q553.5 1284.5 548.5 1278.5 Z" fill="#1e1e1e"/>
<rect x="549" y="1249.5" width="2" height="16.2" fill="#8a8a8a"/>
<rect x="556" y="1249.5" width="2" height="16.2" fill="#8a8a8a"/>
<rect x="552.5" y="1260.1" width="2" height="18" fill="#555"/>
<rect x="569" y="1247.5" width="5" height="13" fill="#2a2a2a"/>
<rect x="567" y="1259.5" width="9" height="2.2" fill="#d42020"/>
<path d="M566 1260.5 L565.2 1267.5" stroke="#444" stroke-width="1"/>
<path d="M577 1260.5 L577.8 1267.5" stroke="#444" stroke-width="1"/>
<path d="M566 1261.5 L577 1261.5 L576.5 1279.5 Q571.5 1284.5 566.5 1279.5 Z" fill="#1e1e1e"/>
<rect x="570.5" y="1264.5" width="2" height="12" fill="#555"/>
<rect x="584" y="1247.5" width="5" height="13" fill="#2a2a2a"/>
<rect x="582" y="1259.5" width="9" height="2.2" fill="#d42020"/>
<path d="M581 1260.5 L580.2 1267.5" stroke="#444" stroke-width="1"/>
<path d="M592 1260.5 L592.8 1267.5" stroke="#444" stroke-width="1"/>
<path d="M581 1261.5 L592 1261.5 L591.5 1279.5 Q586.5 1284.5 581.5 1279.5 Z" fill="#1e1e1e"/>
<rect x="585.5" y="1264.5" width="2" height="12" fill="#555"/>
<rect x="533.5" y="1068.5" width="61" height="171.5" fill="none" stroke="#c49090" stroke-width="1.3" stroke-dasharray="4 3"/>
<path d="M522.6 1105.9 L336.8 1105.9 L336.8 1169" fill="none" stroke="#c47a7a" stroke-width="1.1"/>
<circle cx="522.6" cy="1105.9" r="5.4" fill="#d65a5a"/>
<circle cx="337" cy="1169" r="5.4" fill="#d65a5a"/>
<path d="M255 1289 L261 1404" stroke="#151515" stroke-width="11.5" stroke-linecap="butt"/>
<path d="M257 1289 L263 1404" stroke="#303030" stroke-width="1.6"/>
<path d="M288 1289 L280 1404" stroke="#151515" stroke-width="11.5" stroke-linecap="butt"/>
<path d="M290 1289 L282 1404" stroke="#303030" stroke-width="1.6"/>
<rect x="254.5" y="1400" width="15" height="21" rx="3" fill="#1f1f1f"/>
<rect x="255.5" y="1401.5" width="13" height="1.2" fill="#383838"/>
<rect x="255.5" y="1404.8" width="13" height="1.2" fill="#383838"/>
<rect x="255.5" y="1408.1" width="13" height="1.2" fill="#383838"/>
<rect x="255.5" y="1411.4" width="13" height="1.2" fill="#383838"/>
<rect x="255.5" y="1414.7" width="13" height="1.2" fill="#383838"/>
<rect x="255.5" y="1418" width="13" height="1.2" fill="#383838"/>
<rect x="271.5" y="1400" width="15" height="21" rx="3" fill="#1f1f1f"/>
<rect x="272.5" y="1401.5" width="13" height="1.2" fill="#383838"/>
<rect x="272.5" y="1404.8" width="13" height="1.2" fill="#383838"/>
<rect x="272.5" y="1408.1" width="13" height="1.2" fill="#383838"/>
<rect x="272.5" y="1411.4" width="13" height="1.2" fill="#383838"/>
<rect x="272.5" y="1414.7" width="13" height="1.2" fill="#383838"/>
<rect x="272.5" y="1418" width="13" height="1.2" fill="#383838"/>
<path d="M251.5 1420 L290.5 1420 L290 1440 L283 1467 L258.5 1467 L251.5 1440Z" fill="#353335"/>
<rect x="252" y="1420" width="38" height="1.4" fill="#888"/>
<circle cx="272" cy="1443" r="0.8" fill="#111"/>
<rect x="262.5" y="1466" width="16" height="20" rx="3" fill="#1f1f1f"/>
<rect x="263.5" y="1467.5" width="14" height="1.2" fill="#383838"/>
<rect x="263.5" y="1470.8" width="14" height="1.2" fill="#383838"/>
<rect x="263.5" y="1474.1" width="14" height="1.2" fill="#383838"/>
<rect x="263.5" y="1477.4" width="14" height="1.2" fill="#383838"/>
<rect x="263.5" y="1480.7" width="14" height="1.2" fill="#383838"/>
<rect x="263.5" y="1484" width="14" height="1.2" fill="#383838"/>
<path d="M269 1485 L269 1594" stroke="#151515" stroke-width="11.5" stroke-linecap="butt"/>
<path d="M271 1485 L271 1594" stroke="#303030" stroke-width="1.6"/>
<g transform="translate(237.5,1184.5) scale(1,1)">
<rect x="0" y="0" width="33.5" height="13.5" rx="1.5" fill="#4e4e4e"/>
<rect x="0" y="0" width="4" height="13.5" fill="#3e3e3e"/><rect x="29.5" y="0" width="4" height="13.5" fill="#3e3e3e"/>
<rect x="6" y="13" width="21.5" height="35" fill="#4f4f4f"/>
<rect x="13" y="0" width="8" height="48" fill="#626262"/>
<path d="M0.8 17 L3.5 16 L5.5 48 L2 48Z" fill="#454545"/>
<path d="M32.7 17 L30 16 L28 48 L31.5 48Z" fill="#454545"/>
<rect x="1" y="28" width="4" height="20" fill="#262626"/><rect x="28.5" y="28" width="4" height="20" fill="#262626"/>
<rect x="9" y="36" width="15.5" height="6" fill="#6e6e6e"/>
<path d="M1.5 45 L32 45 L31 96 Q30 100 26 100 L7.5 100 Q3.5 100 2.5 96Z" fill="#3a3a3a"/>
<rect x="2" y="45" width="29.5" height="7" fill="#4a4a4a"/>
<rect x="6" y="55" width="2.2" height="40" fill="#555555"/>
<rect x="10.5" y="55" width="2.2" height="40" fill="#555555"/>
<rect x="15" y="55" width="2.2" height="40" fill="#555555"/>
<rect x="19.5" y="55" width="2.2" height="40" fill="#555555"/>
<rect x="24" y="55" width="2.2" height="40" fill="#555555"/>
<rect x="5" y="98.5" width="23.5" height="6.5" fill="#7a7a7a"/>
<rect x="5" y="98.5" width="11" height="6.5" fill="#5e5e5e"/>
</g>
<g transform="translate(273.3,1184.5) scale(1,1)">
<rect x="0" y="0" width="33.5" height="13.5" rx="1.5" fill="#4e4e4e"/>
<rect x="0" y="0" width="4" height="13.5" fill="#3e3e3e"/><rect x="29.5" y="0" width="4" height="13.5" fill="#3e3e3e"/>
<rect x="6" y="13" width="21.5" height="35" fill="#4f4f4f"/>
<rect x="13" y="0" width="8" height="48" fill="#626262"/>
<path d="M0.8 17 L3.5 16 L5.5 48 L2 48Z" fill="#454545"/>
<path d="M32.7 17 L30 16 L28 48 L31.5 48Z" fill="#454545"/>
<rect x="1" y="28" width="4" height="20" fill="#262626"/><rect x="28.5" y="28" width="4" height="20" fill="#262626"/>
<rect x="9" y="36" width="15.5" height="6" fill="#6e6e6e"/>
<path d="M1.5 45 L32 45 L31 96 Q30 100 26 100 L7.5 100 Q3.5 100 2.5 96Z" fill="#3a3a3a"/>
<rect x="2" y="45" width="29.5" height="7" fill="#4a4a4a"/>
<rect x="6" y="55" width="2.2" height="40" fill="#555555"/>
<rect x="10.5" y="55" width="2.2" height="40" fill="#555555"/>
<rect x="15" y="55" width="2.2" height="40" fill="#555555"/>
<rect x="19.5" y="55" width="2.2" height="40" fill="#555555"/>
<rect x="24" y="55" width="2.2" height="40" fill="#555555"/>
<rect x="5" y="98.5" width="23.5" height="6.5" fill="#7a7a7a"/>
<rect x="5" y="98.5" width="11" height="6.5" fill="#5e5e5e"/>
</g>
<g transform="translate(250.8,1592) scale(1,1)">
<path d="M4 4 Q4 0 9 0 L25 0 Q30 0 30 4 L32 42 L2 42Z" fill="#424242"/>
<rect x="7.5" y="6" width="2.2" height="30" fill="#575757"/>
<rect x="12.5" y="6" width="2.2" height="30" fill="#575757"/>
<rect x="17.5" y="6" width="2.2" height="30" fill="#575757"/>
<rect x="22.5" y="6" width="2.2" height="30" fill="#575757"/>
<path d="M0 42 L34 42 L34 62 L0 62Z" fill="#474747"/>
<rect x="3" y="48" width="5" height="12" fill="#2a2a2a"/><rect x="26" y="48" width="5" height="12" fill="#2a2a2a"/>
<rect x="9" y="44" width="16" height="5" fill="#6a6a6a"/>
<rect x="8" y="62" width="18" height="4.2" fill="#d42424"/>
<rect x="10" y="66" width="14" height="37" rx="1" fill="#424242"/>
<rect x="13" y="66" width="4" height="37" fill="#5e5e5e"/>
<path d="M1 62 L1.5 80 M33 62 L32.5 80" stroke="#333" stroke-width="1.6"/>
</g>
<path d="M381 1296 L383 1403" stroke="#151515" stroke-width="11.5" stroke-linecap="butt"/>
<path d="M383 1296 L385 1403" stroke="#303030" stroke-width="1.6"/>
<rect x="375.5" y="1397" width="16" height="16" rx="3" fill="#1f1f1f"/>
<rect x="376.5" y="1398.5" width="14" height="1.2" fill="#383838"/>
<rect x="376.5" y="1401.8" width="14" height="1.2" fill="#383838"/>
<rect x="376.5" y="1405.1" width="14" height="1.2" fill="#383838"/>
<rect x="376.5" y="1408.4" width="14" height="1.2" fill="#383838"/>
<path d="M370.5 1412 L395.5 1412 L401 1436 L403 1460 L365.5 1460 L367 1436Z" fill="#353335"/>
<circle cx="384" cy="1432" r="0.8" fill="#111"/>
<rect x="366" y="1459" width="37" height="1.4" fill="#888"/>
<rect x="366.5" y="1460" width="15" height="18" rx="3" fill="#1f1f1f"/>
<rect x="367.5" y="1461.5" width="13" height="1.2" fill="#383838"/>
<rect x="367.5" y="1464.8" width="13" height="1.2" fill="#383838"/>
<rect x="367.5" y="1468.1" width="13" height="1.2" fill="#383838"/>
<rect x="367.5" y="1471.4" width="13" height="1.2" fill="#383838"/>
<rect x="367.5" y="1474.7" width="13" height="1.2" fill="#383838"/>
<rect x="385" y="1460" width="15" height="18" rx="3" fill="#1f1f1f"/>
<rect x="386" y="1461.5" width="13" height="1.2" fill="#383838"/>
<rect x="386" y="1464.8" width="13" height="1.2" fill="#383838"/>
<rect x="386" y="1468.1" width="13" height="1.2" fill="#383838"/>
<rect x="386" y="1471.4" width="13" height="1.2" fill="#383838"/>
<rect x="386" y="1474.7" width="13" height="1.2" fill="#383838"/>
<path d="M372.5 1477 L367 1594" stroke="#151515" stroke-width="11.5" stroke-linecap="butt"/>
<path d="M374.5 1477 L369 1594" stroke="#303030" stroke-width="1.6"/>
<path d="M393 1477 L400.5 1594" stroke="#151515" stroke-width="11.5" stroke-linecap="butt"/>
<path d="M395 1477 L402.5 1594" stroke="#303030" stroke-width="1.6"/>
<g transform="translate(363.7,1191.5) scale(1,1)">
<rect x="0" y="0" width="33.5" height="13.5" rx="1.5" fill="#4e4e4e"/>
<rect x="0" y="0" width="4" height="13.5" fill="#3e3e3e"/><rect x="29.5" y="0" width="4" height="13.5" fill="#3e3e3e"/>
<rect x="6" y="13" width="21.5" height="35" fill="#4f4f4f"/>
<rect x="13" y="0" width="8" height="48" fill="#626262"/>
<path d="M0.8 17 L3.5 16 L5.5 48 L2 48Z" fill="#454545"/>
<path d="M32.7 17 L30 16 L28 48 L31.5 48Z" fill="#454545"/>
<rect x="1" y="28" width="4" height="20" fill="#262626"/><rect x="28.5" y="28" width="4" height="20" fill="#262626"/>
<rect x="9" y="36" width="15.5" height="6" fill="#6e6e6e"/>
<path d="M1.5 45 L32 45 L31 96 Q30 100 26 100 L7.5 100 Q3.5 100 2.5 96Z" fill="#3a3a3a"/>
<rect x="2" y="45" width="29.5" height="7" fill="#4a4a4a"/>
<rect x="6" y="55" width="2.2" height="40" fill="#555555"/>
<rect x="10.5" y="55" width="2.2" height="40" fill="#555555"/>
<rect x="15" y="55" width="2.2" height="40" fill="#555555"/>
<rect x="19.5" y="55" width="2.2" height="40" fill="#555555"/>
<rect x="24" y="55" width="2.2" height="40" fill="#555555"/>
<rect x="5" y="98.5" width="23.5" height="6.5" fill="#7a7a7a"/>
<rect x="5" y="98.5" width="11" height="6.5" fill="#5e5e5e"/>
</g>
<g transform="translate(348.2,1592) scale(1,1)">
<path d="M4 4 Q4 0 9 0 L25 0 Q30 0 30 4 L32 42 L2 42Z" fill="#424242"/>
<rect x="7.5" y="6" width="2.2" height="30" fill="#575757"/>
<rect x="12.5" y="6" width="2.2" height="30" fill="#575757"/>
<rect x="17.5" y="6" width="2.2" height="30" fill="#575757"/>
<rect x="22.5" y="6" width="2.2" height="30" fill="#575757"/>
<path d="M0 42 L34 42 L34 62 L0 62Z" fill="#474747"/>
<rect x="3" y="48" width="5" height="12" fill="#2a2a2a"/><rect x="26" y="48" width="5" height="12" fill="#2a2a2a"/>
<rect x="9" y="44" width="16" height="5" fill="#6a6a6a"/>
<rect x="8" y="62" width="18" height="4.2" fill="#d42424"/>
<rect x="10" y="66" width="14" height="37" rx="1" fill="#424242"/>
<rect x="13" y="66" width="4" height="37" fill="#5e5e5e"/>
<path d="M1 62 L1.5 80 M33 62 L32.5 80" stroke="#333" stroke-width="1.6"/>
</g>
<g transform="translate(385.2,1592) scale(1,1)">
<path d="M4 4 Q4 0 9 0 L25 0 Q30 0 30 4 L32 42 L2 42Z" fill="#424242"/>
<rect x="7.5" y="6" width="2.2" height="30" fill="#575757"/>
<rect x="12.5" y="6" width="2.2" height="30" fill="#575757"/>
<rect x="17.5" y="6" width="2.2" height="30" fill="#575757"/>
<rect x="22.5" y="6" width="2.2" height="30" fill="#575757"/>
<path d="M0 42 L34 42 L34 62 L0 62Z" fill="#474747"/>
<rect x="3" y="48" width="5" height="12" fill="#2a2a2a"/><rect x="26" y="48" width="5" height="12" fill="#2a2a2a"/>
<rect x="9" y="44" width="16" height="5" fill="#6a6a6a"/>
<rect x="8" y="62" width="18" height="4.2" fill="#d42424"/>
<rect x="10" y="66" width="14" height="37" rx="1" fill="#424242"/>
<rect x="13" y="66" width="4" height="37" fill="#5e5e5e"/>
<path d="M1 62 L1.5 80 M33 62 L32.5 80" stroke="#333" stroke-width="1.6"/>
</g>
<text x="0" y="0" transform="translate(88,1761) scale(0.825,1)" font-family="Liberation Sans" font-weight="bold" font-size="44" fill="#c55c5c">MC4 Y Parallel Branch Connectors</text>
</svg></body></html>
